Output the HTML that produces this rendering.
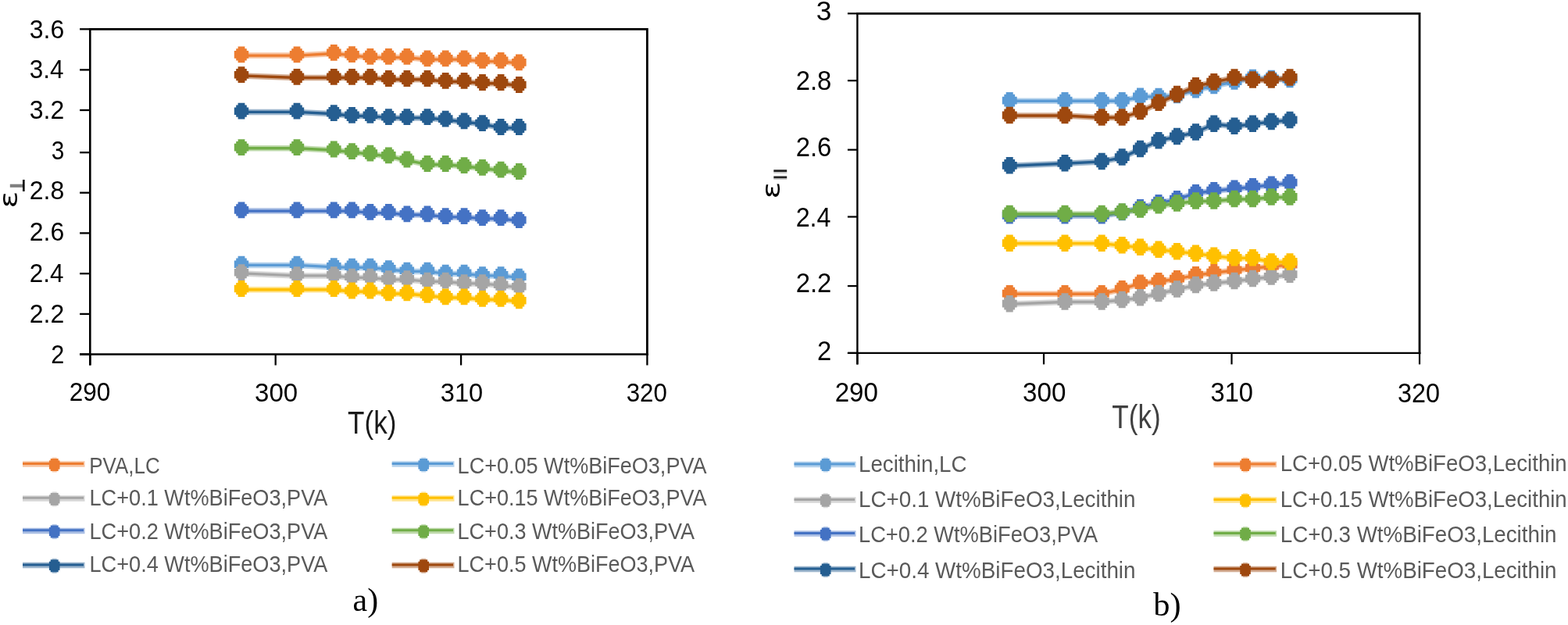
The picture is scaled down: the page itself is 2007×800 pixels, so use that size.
<!DOCTYPE html><html><head><meta charset="utf-8"><title>Dielectric permittivity vs temperature</title><style>html,body{margin:0;padding:0;background:#fff;overflow:hidden;}svg{display:block;}.tk{font-family:"Liberation Sans",Arial,sans-serif;font-size:32.5px;fill:#000;}.tk2{font-family:"Liberation Sans",Arial,sans-serif;font-size:34px;fill:#000;}.lg{font-family:"Liberation Sans",Arial,sans-serif;font-size:29.4px;fill:#595959;}.lg2{font-family:"Liberation Sans",Arial,sans-serif;font-size:29.8px;fill:#595959;}.ti{font-family:"Liberation Sans",Arial,sans-serif;}.cap{font-family:"Liberation Serif","Times New Roman",serif;font-size:43px;fill:#000;}</style></head><body><svg width="2007" height="800" viewBox="0 0 2007 800"><rect width="2007" height="800" fill="#fff"/><g stroke="#000" fill="none"><path d="M115.3,37.3 H828.4 V453.5" stroke-width="2.8" stroke-linecap="square"/><path d="M115.3,35.9 V467.5" stroke-width="2.6"/><path d="M102.1,453.5 H829.8" stroke-width="2.4"/><path d="M102.1,37.3 H115.3" stroke-width="2.3"/><path d="M102.1,89.4 H115.3" stroke-width="2.3"/><path d="M102.1,141.0 H115.3" stroke-width="2.3"/><path d="M102.1,195.2 H115.3" stroke-width="2.3"/><path d="M102.1,246.7 H115.3" stroke-width="2.3"/><path d="M102.1,298.4 H115.3" stroke-width="2.3"/><path d="M102.1,350.2 H115.3" stroke-width="2.3"/><path d="M102.1,401.9 H115.3" stroke-width="2.3"/><path d="M102.1,453.5 H115.3" stroke-width="2.3"/><path d="M115.3,453.5 V467.5" stroke-width="2.3"/><path d="M352.7,453.5 V467.5" stroke-width="2.3"/><path d="M590.1,453.5 V467.5" stroke-width="2.3"/><path d="M828.4,453.5 V467.5" stroke-width="2.3"/></g><text x="37.78" y="49.42" font-family='"Liberation Sans",Arial,sans-serif' font-size="32.5" fill="#000" textLength="44.48" lengthAdjust="spacingAndGlyphs">3.6</text><text x="37.78" y="100.28" font-family='"Liberation Sans",Arial,sans-serif' font-size="32.5" fill="#000" textLength="43.68" lengthAdjust="spacingAndGlyphs">3.4</text><text x="37.78" y="152.20" font-family='"Liberation Sans",Arial,sans-serif' font-size="32.5" fill="#000" textLength="44.48" lengthAdjust="spacingAndGlyphs">3.2</text><text x="65.70" y="204.12" font-family='"Liberation Sans",Arial,sans-serif' font-size="32.5" fill="#000" textLength="16.56" lengthAdjust="spacingAndGlyphs">3</text><text x="37.78" y="255.42" font-family='"Liberation Sans",Arial,sans-serif' font-size="32.5" fill="#000" textLength="44.48" lengthAdjust="spacingAndGlyphs">2.8</text><text x="37.78" y="307.58" font-family='"Liberation Sans",Arial,sans-serif' font-size="32.5" fill="#000" textLength="44.48" lengthAdjust="spacingAndGlyphs">2.6</text><text x="37.78" y="361.44" font-family='"Liberation Sans",Arial,sans-serif' font-size="32.5" fill="#000" textLength="43.68" lengthAdjust="spacingAndGlyphs">2.4</text><text x="37.78" y="413.32" font-family='"Liberation Sans",Arial,sans-serif' font-size="32.5" fill="#000" textLength="44.48" lengthAdjust="spacingAndGlyphs">2.2</text><text x="65.28" y="465.24" font-family='"Liberation Sans",Arial,sans-serif' font-size="32.5" fill="#000" textLength="17.02" lengthAdjust="spacingAndGlyphs">2</text><text x="88.70" y="513.48" font-family='"Liberation Sans",Arial,sans-serif' font-size="32.5" fill="#000" textLength="52.60" lengthAdjust="spacingAndGlyphs">290</text><text x="326.12" y="514.00" font-family='"Liberation Sans",Arial,sans-serif' font-size="32.5" fill="#000" textLength="55.10" lengthAdjust="spacingAndGlyphs">300</text><text x="563.74" y="514.00" font-family='"Liberation Sans",Arial,sans-serif' font-size="32.5" fill="#000" textLength="54.52" lengthAdjust="spacingAndGlyphs">310</text><text x="801.74" y="513.54" font-family='"Liberation Sans",Arial,sans-serif' font-size="32.5" fill="#000" textLength="52.10" lengthAdjust="spacingAndGlyphs">320</text><text x="445.10" y="554.86" font-family='"Liberation Sans",Arial,sans-serif' font-size="40.6" fill="#1a1a1a" textLength="62.33" lengthAdjust="spacingAndGlyphs">T(k)</text><g stroke="#000" fill="none"><path d="M1097.4,17.3 H1817.0 V451.9" stroke-width="2.8" stroke-linecap="square"/><path d="M1097.4,15.9 V466.4" stroke-width="2.4"/><path d="M1084.9,451.9 H1818.4" stroke-width="2.2"/><path d="M1084.9,17.3 H1097.4" stroke-width="2.2"/><path d="M1084.9,103.2 H1097.4" stroke-width="2.2"/><path d="M1084.9,191.7 H1097.4" stroke-width="2.2"/><path d="M1084.9,277.5 H1097.4" stroke-width="2.2"/><path d="M1084.9,366.1 H1097.4" stroke-width="2.2"/><path d="M1084.9,451.9 H1097.4" stroke-width="2.2"/><path d="M1097.4,451.9 V466.4" stroke-width="2.2"/><path d="M1336.0,451.9 V466.4" stroke-width="2.2"/><path d="M1576.5,451.9 V466.4" stroke-width="2.2"/><path d="M1817.0,451.9 V466.4" stroke-width="2.2"/></g><text x="1044.74" y="26.46" font-family='"Liberation Sans",Arial,sans-serif' font-size="34.5" fill="#000" textLength="19.60" lengthAdjust="spacingAndGlyphs">3</text><text x="1018.70" y="115.24" font-family='"Liberation Sans",Arial,sans-serif' font-size="34.5" fill="#000" textLength="45.64" lengthAdjust="spacingAndGlyphs">2.8</text><text x="1018.70" y="200.36" font-family='"Liberation Sans",Arial,sans-serif' font-size="34.5" fill="#000" textLength="45.64" lengthAdjust="spacingAndGlyphs">2.6</text><text x="1018.70" y="289.52" font-family='"Liberation Sans",Arial,sans-serif' font-size="34.5" fill="#000" textLength="44.84" lengthAdjust="spacingAndGlyphs">2.4</text><text x="1018.70" y="374.36" font-family='"Liberation Sans",Arial,sans-serif' font-size="34.5" fill="#000" textLength="45.64" lengthAdjust="spacingAndGlyphs">2.2</text><text x="1046.12" y="460.82" font-family='"Liberation Sans",Arial,sans-serif' font-size="34.5" fill="#000" textLength="18.22" lengthAdjust="spacingAndGlyphs">2</text><text x="1068.74" y="514.36" font-family='"Liberation Sans",Arial,sans-serif' font-size="34.5" fill="#000" textLength="55.14" lengthAdjust="spacingAndGlyphs">290</text><text x="1309.12" y="514.40" font-family='"Liberation Sans",Arial,sans-serif' font-size="34.5" fill="#000" textLength="55.26" lengthAdjust="spacingAndGlyphs">300</text><text x="1549.62" y="514.40" font-family='"Liberation Sans",Arial,sans-serif' font-size="34.5" fill="#000" textLength="54.34" lengthAdjust="spacingAndGlyphs">310</text><text x="1789.04" y="514.74" font-family='"Liberation Sans",Arial,sans-serif' font-size="34.5" fill="#000" textLength="53.92" lengthAdjust="spacingAndGlyphs">320</text><text x="1423.35" y="548.32" font-family='"Liberation Sans",Arial,sans-serif' font-size="42.5" fill="#404040" textLength="62.27" lengthAdjust="spacingAndGlyphs">T(k)</text><polyline points="309.0,71.1 380.0,71.1 427.3,68.5 450.5,70.9 473.9,73.5 497.4,73.6 520.9,73.6 547.0,76.1 570.2,76.1 594.1,76.1 617.5,78.6 641.1,78.6 664.4,81.1" fill="none" stroke="#ED7D31" stroke-opacity="0.45" stroke-width="7.5" stroke-linejoin="round"/><polyline points="309.0,71.1 380.0,71.1 427.3,68.5 450.5,70.9 473.9,73.5 497.4,73.6 520.9,73.6 547.0,76.1 570.2,76.1 594.1,76.1 617.5,78.6 641.1,78.6 664.4,81.1" fill="none" stroke="#ED7D31" stroke-width="3.4" stroke-linejoin="round"/><path d="M304.6,59.5 L313.4,59.5 L313.4,62.3 L315.8,62.3 L315.8,65.1 L318.2,65.1 L318.2,74.7 L315.8,74.7 L315.8,77.5 L313.4,77.5 L313.4,80.3 L304.6,80.3 L304.6,77.5 L302.2,77.5 L302.2,74.7 L299.8,74.7 L299.8,65.1 L302.2,65.1 L302.2,62.3 L304.6,62.3Z" fill="#ED7D31"/><path d="M375.6,59.5 L384.4,59.5 L384.4,62.3 L386.8,62.3 L386.8,65.1 L389.2,65.1 L389.2,74.7 L386.8,74.7 L386.8,77.5 L384.4,77.5 L384.4,80.3 L375.6,80.3 L375.6,77.5 L373.2,77.5 L373.2,74.7 L370.8,74.7 L370.8,65.1 L373.2,65.1 L373.2,62.3 L375.6,62.3Z" fill="#ED7D31"/><path d="M422.9,56.9 L431.7,56.9 L431.7,59.7 L434.1,59.7 L434.1,62.5 L436.6,62.5 L436.6,72.1 L434.1,72.1 L434.1,74.9 L431.7,74.9 L431.7,77.7 L422.9,77.7 L422.9,74.9 L420.5,74.9 L420.5,72.1 L418.1,72.1 L418.1,62.5 L420.5,62.5 L420.5,59.7 L422.9,59.7Z" fill="#ED7D31"/><path d="M446.1,59.3 L454.9,59.3 L454.9,62.1 L457.3,62.1 L457.3,64.9 L459.8,64.9 L459.8,74.5 L457.3,74.5 L457.3,77.3 L454.9,77.3 L454.9,80.1 L446.1,80.1 L446.1,77.3 L443.7,77.3 L443.7,74.5 L441.2,74.5 L441.2,64.9 L443.7,64.9 L443.7,62.1 L446.1,62.1Z" fill="#ED7D31"/><path d="M469.5,61.9 L478.3,61.9 L478.3,64.7 L480.7,64.7 L480.7,67.5 L483.1,67.5 L483.1,77.1 L480.7,77.1 L480.7,79.9 L478.3,79.9 L478.3,82.7 L469.5,82.7 L469.5,79.9 L467.1,79.9 L467.1,77.1 L464.6,77.1 L464.6,67.5 L467.1,67.5 L467.1,64.7 L469.5,64.7Z" fill="#ED7D31"/><path d="M493.0,62.0 L501.8,62.0 L501.8,64.8 L504.2,64.8 L504.2,67.6 L506.6,67.6 L506.6,77.2 L504.2,77.2 L504.2,80.0 L501.8,80.0 L501.8,82.8 L493.0,82.8 L493.0,80.0 L490.6,80.0 L490.6,77.2 L488.1,77.2 L488.1,67.6 L490.6,67.6 L490.6,64.8 L493.0,64.8Z" fill="#ED7D31"/><path d="M516.5,62.0 L525.3,62.0 L525.3,64.8 L527.7,64.8 L527.7,67.6 L530.1,67.6 L530.1,77.2 L527.7,77.2 L527.7,80.0 L525.3,80.0 L525.3,82.8 L516.5,82.8 L516.5,80.0 L514.1,80.0 L514.1,77.2 L511.6,77.2 L511.6,67.6 L514.1,67.6 L514.1,64.8 L516.5,64.8Z" fill="#ED7D31"/><path d="M542.6,64.5 L551.4,64.5 L551.4,67.3 L553.8,67.3 L553.8,70.1 L556.2,70.1 L556.2,79.7 L553.8,79.7 L553.8,82.5 L551.4,82.5 L551.4,85.3 L542.6,85.3 L542.6,82.5 L540.2,82.5 L540.2,79.7 L537.8,79.7 L537.8,70.1 L540.2,70.1 L540.2,67.3 L542.6,67.3Z" fill="#ED7D31"/><path d="M565.8,64.5 L574.6,64.5 L574.6,67.3 L577.0,67.3 L577.0,70.1 L579.5,70.1 L579.5,79.7 L577.0,79.7 L577.0,82.5 L574.6,82.5 L574.6,85.3 L565.8,85.3 L565.8,82.5 L563.4,82.5 L563.4,79.7 L561.0,79.7 L561.0,70.1 L563.4,70.1 L563.4,67.3 L565.8,67.3Z" fill="#ED7D31"/><path d="M589.7,64.5 L598.5,64.5 L598.5,67.3 L600.9,67.3 L600.9,70.1 L603.4,70.1 L603.4,79.7 L600.9,79.7 L600.9,82.5 L598.5,82.5 L598.5,85.3 L589.7,85.3 L589.7,82.5 L587.3,82.5 L587.3,79.7 L584.9,79.7 L584.9,70.1 L587.3,70.1 L587.3,67.3 L589.7,67.3Z" fill="#ED7D31"/><path d="M613.1,67.0 L621.9,67.0 L621.9,69.8 L624.3,69.8 L624.3,72.6 L626.8,72.6 L626.8,82.2 L624.3,82.2 L624.3,85.0 L621.9,85.0 L621.9,87.8 L613.1,87.8 L613.1,85.0 L610.7,85.0 L610.7,82.2 L608.2,82.2 L608.2,72.6 L610.7,72.6 L610.7,69.8 L613.1,69.8Z" fill="#ED7D31"/><path d="M636.7,67.0 L645.5,67.0 L645.5,69.8 L647.9,69.8 L647.9,72.6 L650.4,72.6 L650.4,82.2 L647.9,82.2 L647.9,85.0 L645.5,85.0 L645.5,87.8 L636.7,87.8 L636.7,85.0 L634.3,85.0 L634.3,82.2 L631.9,82.2 L631.9,72.6 L634.3,72.6 L634.3,69.8 L636.7,69.8Z" fill="#ED7D31"/><path d="M660.0,69.5 L668.8,69.5 L668.8,72.3 L671.2,72.3 L671.2,75.1 L673.6,75.1 L673.6,84.7 L671.2,84.7 L671.2,87.5 L668.8,87.5 L668.8,90.3 L660.0,90.3 L660.0,87.5 L657.6,87.5 L657.6,84.7 L655.1,84.7 L655.1,75.1 L657.6,75.1 L657.6,72.3 L660.0,72.3Z" fill="#ED7D31"/><polyline points="309.0,339.4 380.0,339.4 427.3,341.9 450.5,342.4 473.9,342.4 497.4,344.9 520.9,347.4 547.0,347.4 570.2,350.4 594.1,350.4 617.5,352.9 641.1,352.9 664.4,355.4" fill="none" stroke="#5B9BD5" stroke-opacity="0.45" stroke-width="7.5" stroke-linejoin="round"/><polyline points="309.0,339.4 380.0,339.4 427.3,341.9 450.5,342.4 473.9,342.4 497.4,344.9 520.9,347.4 547.0,347.4 570.2,350.4 594.1,350.4 617.5,352.9 641.1,352.9 664.4,355.4" fill="none" stroke="#5B9BD5" stroke-width="3.4" stroke-linejoin="round"/><path d="M304.6,327.8 L313.4,327.8 L313.4,330.6 L315.8,330.6 L315.8,333.4 L318.2,333.4 L318.2,343.0 L315.8,343.0 L315.8,345.8 L313.4,345.8 L313.4,348.6 L304.6,348.6 L304.6,345.8 L302.2,345.8 L302.2,343.0 L299.8,343.0 L299.8,333.4 L302.2,333.4 L302.2,330.6 L304.6,330.6Z" fill="#5B9BD5"/><path d="M375.6,327.8 L384.4,327.8 L384.4,330.6 L386.8,330.6 L386.8,333.4 L389.2,333.4 L389.2,343.0 L386.8,343.0 L386.8,345.8 L384.4,345.8 L384.4,348.6 L375.6,348.6 L375.6,345.8 L373.2,345.8 L373.2,343.0 L370.8,343.0 L370.8,333.4 L373.2,333.4 L373.2,330.6 L375.6,330.6Z" fill="#5B9BD5"/><path d="M422.9,330.3 L431.7,330.3 L431.7,333.1 L434.1,333.1 L434.1,335.9 L436.6,335.9 L436.6,345.5 L434.1,345.5 L434.1,348.3 L431.7,348.3 L431.7,351.1 L422.9,351.1 L422.9,348.3 L420.5,348.3 L420.5,345.5 L418.1,345.5 L418.1,335.9 L420.5,335.9 L420.5,333.1 L422.9,333.1Z" fill="#5B9BD5"/><path d="M446.1,330.8 L454.9,330.8 L454.9,333.6 L457.3,333.6 L457.3,336.4 L459.8,336.4 L459.8,346.0 L457.3,346.0 L457.3,348.8 L454.9,348.8 L454.9,351.6 L446.1,351.6 L446.1,348.8 L443.7,348.8 L443.7,346.0 L441.2,346.0 L441.2,336.4 L443.7,336.4 L443.7,333.6 L446.1,333.6Z" fill="#5B9BD5"/><path d="M469.5,330.8 L478.3,330.8 L478.3,333.6 L480.7,333.6 L480.7,336.4 L483.1,336.4 L483.1,346.0 L480.7,346.0 L480.7,348.8 L478.3,348.8 L478.3,351.6 L469.5,351.6 L469.5,348.8 L467.1,348.8 L467.1,346.0 L464.6,346.0 L464.6,336.4 L467.1,336.4 L467.1,333.6 L469.5,333.6Z" fill="#5B9BD5"/><path d="M493.0,333.3 L501.8,333.3 L501.8,336.1 L504.2,336.1 L504.2,338.9 L506.6,338.9 L506.6,348.5 L504.2,348.5 L504.2,351.3 L501.8,351.3 L501.8,354.1 L493.0,354.1 L493.0,351.3 L490.6,351.3 L490.6,348.5 L488.1,348.5 L488.1,338.9 L490.6,338.9 L490.6,336.1 L493.0,336.1Z" fill="#5B9BD5"/><path d="M516.5,335.8 L525.3,335.8 L525.3,338.6 L527.7,338.6 L527.7,341.4 L530.1,341.4 L530.1,351.0 L527.7,351.0 L527.7,353.8 L525.3,353.8 L525.3,356.6 L516.5,356.6 L516.5,353.8 L514.1,353.8 L514.1,351.0 L511.6,351.0 L511.6,341.4 L514.1,341.4 L514.1,338.6 L516.5,338.6Z" fill="#5B9BD5"/><path d="M542.6,335.8 L551.4,335.8 L551.4,338.6 L553.8,338.6 L553.8,341.4 L556.2,341.4 L556.2,351.0 L553.8,351.0 L553.8,353.8 L551.4,353.8 L551.4,356.6 L542.6,356.6 L542.6,353.8 L540.2,353.8 L540.2,351.0 L537.8,351.0 L537.8,341.4 L540.2,341.4 L540.2,338.6 L542.6,338.6Z" fill="#5B9BD5"/><path d="M565.8,338.8 L574.6,338.8 L574.6,341.6 L577.0,341.6 L577.0,344.4 L579.5,344.4 L579.5,354.0 L577.0,354.0 L577.0,356.8 L574.6,356.8 L574.6,359.6 L565.8,359.6 L565.8,356.8 L563.4,356.8 L563.4,354.0 L561.0,354.0 L561.0,344.4 L563.4,344.4 L563.4,341.6 L565.8,341.6Z" fill="#5B9BD5"/><path d="M589.7,338.8 L598.5,338.8 L598.5,341.6 L600.9,341.6 L600.9,344.4 L603.4,344.4 L603.4,354.0 L600.9,354.0 L600.9,356.8 L598.5,356.8 L598.5,359.6 L589.7,359.6 L589.7,356.8 L587.3,356.8 L587.3,354.0 L584.9,354.0 L584.9,344.4 L587.3,344.4 L587.3,341.6 L589.7,341.6Z" fill="#5B9BD5"/><path d="M613.1,341.3 L621.9,341.3 L621.9,344.1 L624.3,344.1 L624.3,346.9 L626.8,346.9 L626.8,356.5 L624.3,356.5 L624.3,359.3 L621.9,359.3 L621.9,362.1 L613.1,362.1 L613.1,359.3 L610.7,359.3 L610.7,356.5 L608.2,356.5 L608.2,346.9 L610.7,346.9 L610.7,344.1 L613.1,344.1Z" fill="#5B9BD5"/><path d="M636.7,341.3 L645.5,341.3 L645.5,344.1 L647.9,344.1 L647.9,346.9 L650.4,346.9 L650.4,356.5 L647.9,356.5 L647.9,359.3 L645.5,359.3 L645.5,362.1 L636.7,362.1 L636.7,359.3 L634.3,359.3 L634.3,356.5 L631.9,356.5 L631.9,346.9 L634.3,346.9 L634.3,344.1 L636.7,344.1Z" fill="#5B9BD5"/><path d="M660.0,343.8 L668.8,343.8 L668.8,346.6 L671.2,346.6 L671.2,349.4 L673.6,349.4 L673.6,359.0 L671.2,359.0 L671.2,361.8 L668.8,361.8 L668.8,364.6 L660.0,364.6 L660.0,361.8 L657.6,361.8 L657.6,359.0 L655.1,359.0 L655.1,349.4 L657.6,349.4 L657.6,346.6 L660.0,346.6Z" fill="#5B9BD5"/><polyline points="309.0,349.9 380.0,352.9 427.3,352.9 450.5,355.4 473.9,355.4 497.4,357.9 520.9,357.9 547.0,360.4 570.2,360.4 594.1,362.9 617.5,362.9 641.1,365.4 664.4,367.9" fill="none" stroke="#A5A5A5" stroke-opacity="0.45" stroke-width="7.5" stroke-linejoin="round"/><polyline points="309.0,349.9 380.0,352.9 427.3,352.9 450.5,355.4 473.9,355.4 497.4,357.9 520.9,357.9 547.0,360.4 570.2,360.4 594.1,362.9 617.5,362.9 641.1,365.4 664.4,367.9" fill="none" stroke="#A5A5A5" stroke-width="3.4" stroke-linejoin="round"/><path d="M304.6,338.3 L313.4,338.3 L313.4,341.1 L315.8,341.1 L315.8,343.9 L318.2,343.9 L318.2,353.5 L315.8,353.5 L315.8,356.3 L313.4,356.3 L313.4,359.1 L304.6,359.1 L304.6,356.3 L302.2,356.3 L302.2,353.5 L299.8,353.5 L299.8,343.9 L302.2,343.9 L302.2,341.1 L304.6,341.1Z" fill="#A5A5A5"/><path d="M375.6,341.3 L384.4,341.3 L384.4,344.1 L386.8,344.1 L386.8,346.9 L389.2,346.9 L389.2,356.5 L386.8,356.5 L386.8,359.3 L384.4,359.3 L384.4,362.1 L375.6,362.1 L375.6,359.3 L373.2,359.3 L373.2,356.5 L370.8,356.5 L370.8,346.9 L373.2,346.9 L373.2,344.1 L375.6,344.1Z" fill="#A5A5A5"/><path d="M422.9,341.3 L431.7,341.3 L431.7,344.1 L434.1,344.1 L434.1,346.9 L436.6,346.9 L436.6,356.5 L434.1,356.5 L434.1,359.3 L431.7,359.3 L431.7,362.1 L422.9,362.1 L422.9,359.3 L420.5,359.3 L420.5,356.5 L418.1,356.5 L418.1,346.9 L420.5,346.9 L420.5,344.1 L422.9,344.1Z" fill="#A5A5A5"/><path d="M446.1,343.8 L454.9,343.8 L454.9,346.6 L457.3,346.6 L457.3,349.4 L459.8,349.4 L459.8,359.0 L457.3,359.0 L457.3,361.8 L454.9,361.8 L454.9,364.6 L446.1,364.6 L446.1,361.8 L443.7,361.8 L443.7,359.0 L441.2,359.0 L441.2,349.4 L443.7,349.4 L443.7,346.6 L446.1,346.6Z" fill="#A5A5A5"/><path d="M469.5,343.8 L478.3,343.8 L478.3,346.6 L480.7,346.6 L480.7,349.4 L483.1,349.4 L483.1,359.0 L480.7,359.0 L480.7,361.8 L478.3,361.8 L478.3,364.6 L469.5,364.6 L469.5,361.8 L467.1,361.8 L467.1,359.0 L464.6,359.0 L464.6,349.4 L467.1,349.4 L467.1,346.6 L469.5,346.6Z" fill="#A5A5A5"/><path d="M493.0,346.3 L501.8,346.3 L501.8,349.1 L504.2,349.1 L504.2,351.9 L506.6,351.9 L506.6,361.5 L504.2,361.5 L504.2,364.3 L501.8,364.3 L501.8,367.1 L493.0,367.1 L493.0,364.3 L490.6,364.3 L490.6,361.5 L488.1,361.5 L488.1,351.9 L490.6,351.9 L490.6,349.1 L493.0,349.1Z" fill="#A5A5A5"/><path d="M516.5,346.3 L525.3,346.3 L525.3,349.1 L527.7,349.1 L527.7,351.9 L530.1,351.9 L530.1,361.5 L527.7,361.5 L527.7,364.3 L525.3,364.3 L525.3,367.1 L516.5,367.1 L516.5,364.3 L514.1,364.3 L514.1,361.5 L511.6,361.5 L511.6,351.9 L514.1,351.9 L514.1,349.1 L516.5,349.1Z" fill="#A5A5A5"/><path d="M542.6,348.8 L551.4,348.8 L551.4,351.6 L553.8,351.6 L553.8,354.4 L556.2,354.4 L556.2,364.0 L553.8,364.0 L553.8,366.8 L551.4,366.8 L551.4,369.6 L542.6,369.6 L542.6,366.8 L540.2,366.8 L540.2,364.0 L537.8,364.0 L537.8,354.4 L540.2,354.4 L540.2,351.6 L542.6,351.6Z" fill="#A5A5A5"/><path d="M565.8,348.8 L574.6,348.8 L574.6,351.6 L577.0,351.6 L577.0,354.4 L579.5,354.4 L579.5,364.0 L577.0,364.0 L577.0,366.8 L574.6,366.8 L574.6,369.6 L565.8,369.6 L565.8,366.8 L563.4,366.8 L563.4,364.0 L561.0,364.0 L561.0,354.4 L563.4,354.4 L563.4,351.6 L565.8,351.6Z" fill="#A5A5A5"/><path d="M589.7,351.3 L598.5,351.3 L598.5,354.1 L600.9,354.1 L600.9,356.9 L603.4,356.9 L603.4,366.5 L600.9,366.5 L600.9,369.3 L598.5,369.3 L598.5,372.1 L589.7,372.1 L589.7,369.3 L587.3,369.3 L587.3,366.5 L584.9,366.5 L584.9,356.9 L587.3,356.9 L587.3,354.1 L589.7,354.1Z" fill="#A5A5A5"/><path d="M613.1,351.3 L621.9,351.3 L621.9,354.1 L624.3,354.1 L624.3,356.9 L626.8,356.9 L626.8,366.5 L624.3,366.5 L624.3,369.3 L621.9,369.3 L621.9,372.1 L613.1,372.1 L613.1,369.3 L610.7,369.3 L610.7,366.5 L608.2,366.5 L608.2,356.9 L610.7,356.9 L610.7,354.1 L613.1,354.1Z" fill="#A5A5A5"/><path d="M636.7,353.8 L645.5,353.8 L645.5,356.6 L647.9,356.6 L647.9,359.4 L650.4,359.4 L650.4,369.0 L647.9,369.0 L647.9,371.8 L645.5,371.8 L645.5,374.6 L636.7,374.6 L636.7,371.8 L634.3,371.8 L634.3,369.0 L631.9,369.0 L631.9,359.4 L634.3,359.4 L634.3,356.6 L636.7,356.6Z" fill="#A5A5A5"/><path d="M660.0,356.3 L668.8,356.3 L668.8,359.1 L671.2,359.1 L671.2,361.9 L673.6,361.9 L673.6,371.5 L671.2,371.5 L671.2,374.3 L668.8,374.3 L668.8,377.1 L660.0,377.1 L660.0,374.3 L657.6,374.3 L657.6,371.5 L655.1,371.5 L655.1,361.9 L657.6,361.9 L657.6,359.1 L660.0,359.1Z" fill="#A5A5A5"/><polyline points="309.0,370.7 380.0,370.7 427.3,370.7 450.5,373.2 473.9,373.2 497.4,376.0 520.9,376.0 547.0,378.5 570.2,381.0 594.1,381.0 617.5,383.5 641.1,383.5 664.4,386.0" fill="none" stroke="#FFC000" stroke-opacity="0.45" stroke-width="7.5" stroke-linejoin="round"/><polyline points="309.0,370.7 380.0,370.7 427.3,370.7 450.5,373.2 473.9,373.2 497.4,376.0 520.9,376.0 547.0,378.5 570.2,381.0 594.1,381.0 617.5,383.5 641.1,383.5 664.4,386.0" fill="none" stroke="#FFC000" stroke-width="3.4" stroke-linejoin="round"/><path d="M304.6,359.1 L313.4,359.1 L313.4,361.9 L315.8,361.9 L315.8,364.7 L318.2,364.7 L318.2,374.3 L315.8,374.3 L315.8,377.1 L313.4,377.1 L313.4,379.9 L304.6,379.9 L304.6,377.1 L302.2,377.1 L302.2,374.3 L299.8,374.3 L299.8,364.7 L302.2,364.7 L302.2,361.9 L304.6,361.9Z" fill="#FFC000"/><path d="M375.6,359.1 L384.4,359.1 L384.4,361.9 L386.8,361.9 L386.8,364.7 L389.2,364.7 L389.2,374.3 L386.8,374.3 L386.8,377.1 L384.4,377.1 L384.4,379.9 L375.6,379.9 L375.6,377.1 L373.2,377.1 L373.2,374.3 L370.8,374.3 L370.8,364.7 L373.2,364.7 L373.2,361.9 L375.6,361.9Z" fill="#FFC000"/><path d="M422.9,359.1 L431.7,359.1 L431.7,361.9 L434.1,361.9 L434.1,364.7 L436.6,364.7 L436.6,374.3 L434.1,374.3 L434.1,377.1 L431.7,377.1 L431.7,379.9 L422.9,379.9 L422.9,377.1 L420.5,377.1 L420.5,374.3 L418.1,374.3 L418.1,364.7 L420.5,364.7 L420.5,361.9 L422.9,361.9Z" fill="#FFC000"/><path d="M446.1,361.6 L454.9,361.6 L454.9,364.4 L457.3,364.4 L457.3,367.2 L459.8,367.2 L459.8,376.8 L457.3,376.8 L457.3,379.6 L454.9,379.6 L454.9,382.4 L446.1,382.4 L446.1,379.6 L443.7,379.6 L443.7,376.8 L441.2,376.8 L441.2,367.2 L443.7,367.2 L443.7,364.4 L446.1,364.4Z" fill="#FFC000"/><path d="M469.5,361.6 L478.3,361.6 L478.3,364.4 L480.7,364.4 L480.7,367.2 L483.1,367.2 L483.1,376.8 L480.7,376.8 L480.7,379.6 L478.3,379.6 L478.3,382.4 L469.5,382.4 L469.5,379.6 L467.1,379.6 L467.1,376.8 L464.6,376.8 L464.6,367.2 L467.1,367.2 L467.1,364.4 L469.5,364.4Z" fill="#FFC000"/><path d="M493.0,364.4 L501.8,364.4 L501.8,367.2 L504.2,367.2 L504.2,370.0 L506.6,370.0 L506.6,379.6 L504.2,379.6 L504.2,382.4 L501.8,382.4 L501.8,385.2 L493.0,385.2 L493.0,382.4 L490.6,382.4 L490.6,379.6 L488.1,379.6 L488.1,370.0 L490.6,370.0 L490.6,367.2 L493.0,367.2Z" fill="#FFC000"/><path d="M516.5,364.4 L525.3,364.4 L525.3,367.2 L527.7,367.2 L527.7,370.0 L530.1,370.0 L530.1,379.6 L527.7,379.6 L527.7,382.4 L525.3,382.4 L525.3,385.2 L516.5,385.2 L516.5,382.4 L514.1,382.4 L514.1,379.6 L511.6,379.6 L511.6,370.0 L514.1,370.0 L514.1,367.2 L516.5,367.2Z" fill="#FFC000"/><path d="M542.6,366.9 L551.4,366.9 L551.4,369.7 L553.8,369.7 L553.8,372.5 L556.2,372.5 L556.2,382.1 L553.8,382.1 L553.8,384.9 L551.4,384.9 L551.4,387.7 L542.6,387.7 L542.6,384.9 L540.2,384.9 L540.2,382.1 L537.8,382.1 L537.8,372.5 L540.2,372.5 L540.2,369.7 L542.6,369.7Z" fill="#FFC000"/><path d="M565.8,369.4 L574.6,369.4 L574.6,372.2 L577.0,372.2 L577.0,375.0 L579.5,375.0 L579.5,384.6 L577.0,384.6 L577.0,387.4 L574.6,387.4 L574.6,390.2 L565.8,390.2 L565.8,387.4 L563.4,387.4 L563.4,384.6 L561.0,384.6 L561.0,375.0 L563.4,375.0 L563.4,372.2 L565.8,372.2Z" fill="#FFC000"/><path d="M589.7,369.4 L598.5,369.4 L598.5,372.2 L600.9,372.2 L600.9,375.0 L603.4,375.0 L603.4,384.6 L600.9,384.6 L600.9,387.4 L598.5,387.4 L598.5,390.2 L589.7,390.2 L589.7,387.4 L587.3,387.4 L587.3,384.6 L584.9,384.6 L584.9,375.0 L587.3,375.0 L587.3,372.2 L589.7,372.2Z" fill="#FFC000"/><path d="M613.1,371.9 L621.9,371.9 L621.9,374.7 L624.3,374.7 L624.3,377.5 L626.8,377.5 L626.8,387.1 L624.3,387.1 L624.3,389.9 L621.9,389.9 L621.9,392.7 L613.1,392.7 L613.1,389.9 L610.7,389.9 L610.7,387.1 L608.2,387.1 L608.2,377.5 L610.7,377.5 L610.7,374.7 L613.1,374.7Z" fill="#FFC000"/><path d="M636.7,371.9 L645.5,371.9 L645.5,374.7 L647.9,374.7 L647.9,377.5 L650.4,377.5 L650.4,387.1 L647.9,387.1 L647.9,389.9 L645.5,389.9 L645.5,392.7 L636.7,392.7 L636.7,389.9 L634.3,389.9 L634.3,387.1 L631.9,387.1 L631.9,377.5 L634.3,377.5 L634.3,374.7 L636.7,374.7Z" fill="#FFC000"/><path d="M660.0,374.4 L668.8,374.4 L668.8,377.2 L671.2,377.2 L671.2,380.0 L673.6,380.0 L673.6,389.6 L671.2,389.6 L671.2,392.4 L668.8,392.4 L668.8,395.2 L660.0,395.2 L660.0,392.4 L657.6,392.4 L657.6,389.6 L655.1,389.6 L655.1,380.0 L657.6,380.0 L657.6,377.2 L660.0,377.2Z" fill="#FFC000"/><polyline points="309.0,270.1 380.0,270.1 427.3,270.1 450.5,270.1 473.9,272.6 497.4,272.6 520.9,275.0 547.0,275.0 570.2,277.9 594.1,277.9 617.5,279.9 641.1,279.9 664.4,282.8" fill="none" stroke="#4472C4" stroke-opacity="0.45" stroke-width="7.5" stroke-linejoin="round"/><polyline points="309.0,270.1 380.0,270.1 427.3,270.1 450.5,270.1 473.9,272.6 497.4,272.6 520.9,275.0 547.0,275.0 570.2,277.9 594.1,277.9 617.5,279.9 641.1,279.9 664.4,282.8" fill="none" stroke="#4472C4" stroke-width="3.4" stroke-linejoin="round"/><path d="M304.6,258.5 L313.4,258.5 L313.4,261.3 L315.8,261.3 L315.8,264.1 L318.2,264.1 L318.2,273.7 L315.8,273.7 L315.8,276.5 L313.4,276.5 L313.4,279.3 L304.6,279.3 L304.6,276.5 L302.2,276.5 L302.2,273.7 L299.8,273.7 L299.8,264.1 L302.2,264.1 L302.2,261.3 L304.6,261.3Z" fill="#4472C4"/><path d="M375.6,258.5 L384.4,258.5 L384.4,261.3 L386.8,261.3 L386.8,264.1 L389.2,264.1 L389.2,273.7 L386.8,273.7 L386.8,276.5 L384.4,276.5 L384.4,279.3 L375.6,279.3 L375.6,276.5 L373.2,276.5 L373.2,273.7 L370.8,273.7 L370.8,264.1 L373.2,264.1 L373.2,261.3 L375.6,261.3Z" fill="#4472C4"/><path d="M422.9,258.5 L431.7,258.5 L431.7,261.3 L434.1,261.3 L434.1,264.1 L436.6,264.1 L436.6,273.7 L434.1,273.7 L434.1,276.5 L431.7,276.5 L431.7,279.3 L422.9,279.3 L422.9,276.5 L420.5,276.5 L420.5,273.7 L418.1,273.7 L418.1,264.1 L420.5,264.1 L420.5,261.3 L422.9,261.3Z" fill="#4472C4"/><path d="M446.1,258.5 L454.9,258.5 L454.9,261.3 L457.3,261.3 L457.3,264.1 L459.8,264.1 L459.8,273.7 L457.3,273.7 L457.3,276.5 L454.9,276.5 L454.9,279.3 L446.1,279.3 L446.1,276.5 L443.7,276.5 L443.7,273.7 L441.2,273.7 L441.2,264.1 L443.7,264.1 L443.7,261.3 L446.1,261.3Z" fill="#4472C4"/><path d="M469.5,261.0 L478.3,261.0 L478.3,263.8 L480.7,263.8 L480.7,266.6 L483.1,266.6 L483.1,276.2 L480.7,276.2 L480.7,279.0 L478.3,279.0 L478.3,281.8 L469.5,281.8 L469.5,279.0 L467.1,279.0 L467.1,276.2 L464.6,276.2 L464.6,266.6 L467.1,266.6 L467.1,263.8 L469.5,263.8Z" fill="#4472C4"/><path d="M493.0,261.0 L501.8,261.0 L501.8,263.8 L504.2,263.8 L504.2,266.6 L506.6,266.6 L506.6,276.2 L504.2,276.2 L504.2,279.0 L501.8,279.0 L501.8,281.8 L493.0,281.8 L493.0,279.0 L490.6,279.0 L490.6,276.2 L488.1,276.2 L488.1,266.6 L490.6,266.6 L490.6,263.8 L493.0,263.8Z" fill="#4472C4"/><path d="M516.5,263.4 L525.3,263.4 L525.3,266.2 L527.7,266.2 L527.7,269.0 L530.1,269.0 L530.1,278.6 L527.7,278.6 L527.7,281.4 L525.3,281.4 L525.3,284.2 L516.5,284.2 L516.5,281.4 L514.1,281.4 L514.1,278.6 L511.6,278.6 L511.6,269.0 L514.1,269.0 L514.1,266.2 L516.5,266.2Z" fill="#4472C4"/><path d="M542.6,263.4 L551.4,263.4 L551.4,266.2 L553.8,266.2 L553.8,269.0 L556.2,269.0 L556.2,278.6 L553.8,278.6 L553.8,281.4 L551.4,281.4 L551.4,284.2 L542.6,284.2 L542.6,281.4 L540.2,281.4 L540.2,278.6 L537.8,278.6 L537.8,269.0 L540.2,269.0 L540.2,266.2 L542.6,266.2Z" fill="#4472C4"/><path d="M565.8,266.3 L574.6,266.3 L574.6,269.1 L577.0,269.1 L577.0,271.9 L579.5,271.9 L579.5,281.5 L577.0,281.5 L577.0,284.3 L574.6,284.3 L574.6,287.1 L565.8,287.1 L565.8,284.3 L563.4,284.3 L563.4,281.5 L561.0,281.5 L561.0,271.9 L563.4,271.9 L563.4,269.1 L565.8,269.1Z" fill="#4472C4"/><path d="M589.7,266.3 L598.5,266.3 L598.5,269.1 L600.9,269.1 L600.9,271.9 L603.4,271.9 L603.4,281.5 L600.9,281.5 L600.9,284.3 L598.5,284.3 L598.5,287.1 L589.7,287.1 L589.7,284.3 L587.3,284.3 L587.3,281.5 L584.9,281.5 L584.9,271.9 L587.3,271.9 L587.3,269.1 L589.7,269.1Z" fill="#4472C4"/><path d="M613.1,268.3 L621.9,268.3 L621.9,271.1 L624.3,271.1 L624.3,273.9 L626.8,273.9 L626.8,283.5 L624.3,283.5 L624.3,286.3 L621.9,286.3 L621.9,289.1 L613.1,289.1 L613.1,286.3 L610.7,286.3 L610.7,283.5 L608.2,283.5 L608.2,273.9 L610.7,273.9 L610.7,271.1 L613.1,271.1Z" fill="#4472C4"/><path d="M636.7,268.3 L645.5,268.3 L645.5,271.1 L647.9,271.1 L647.9,273.9 L650.4,273.9 L650.4,283.5 L647.9,283.5 L647.9,286.3 L645.5,286.3 L645.5,289.1 L636.7,289.1 L636.7,286.3 L634.3,286.3 L634.3,283.5 L631.9,283.5 L631.9,273.9 L634.3,273.9 L634.3,271.1 L636.7,271.1Z" fill="#4472C4"/><path d="M660.0,271.2 L668.8,271.2 L668.8,274.0 L671.2,274.0 L671.2,276.8 L673.6,276.8 L673.6,286.4 L671.2,286.4 L671.2,289.2 L668.8,289.2 L668.8,292.0 L660.0,292.0 L660.0,289.2 L657.6,289.2 L657.6,286.4 L655.1,286.4 L655.1,276.8 L657.6,276.8 L657.6,274.0 L660.0,274.0Z" fill="#4472C4"/><polyline points="309.0,189.8 380.0,189.8 427.3,192.2 450.5,194.9 473.9,197.3 497.4,200.1 520.9,205.2 547.0,210.7 570.2,210.7 594.1,212.8 617.5,215.5 641.1,218.3 664.4,220.7" fill="none" stroke="#70AD47" stroke-opacity="0.45" stroke-width="7.5" stroke-linejoin="round"/><polyline points="309.0,189.8 380.0,189.8 427.3,192.2 450.5,194.9 473.9,197.3 497.4,200.1 520.9,205.2 547.0,210.7 570.2,210.7 594.1,212.8 617.5,215.5 641.1,218.3 664.4,220.7" fill="none" stroke="#70AD47" stroke-width="3.4" stroke-linejoin="round"/><path d="M304.6,178.2 L313.4,178.2 L313.4,181.0 L315.8,181.0 L315.8,183.8 L318.2,183.8 L318.2,193.4 L315.8,193.4 L315.8,196.2 L313.4,196.2 L313.4,199.0 L304.6,199.0 L304.6,196.2 L302.2,196.2 L302.2,193.4 L299.8,193.4 L299.8,183.8 L302.2,183.8 L302.2,181.0 L304.6,181.0Z" fill="#70AD47"/><path d="M375.6,178.2 L384.4,178.2 L384.4,181.0 L386.8,181.0 L386.8,183.8 L389.2,183.8 L389.2,193.4 L386.8,193.4 L386.8,196.2 L384.4,196.2 L384.4,199.0 L375.6,199.0 L375.6,196.2 L373.2,196.2 L373.2,193.4 L370.8,193.4 L370.8,183.8 L373.2,183.8 L373.2,181.0 L375.6,181.0Z" fill="#70AD47"/><path d="M422.9,180.6 L431.7,180.6 L431.7,183.4 L434.1,183.4 L434.1,186.2 L436.6,186.2 L436.6,195.8 L434.1,195.8 L434.1,198.6 L431.7,198.6 L431.7,201.4 L422.9,201.4 L422.9,198.6 L420.5,198.6 L420.5,195.8 L418.1,195.8 L418.1,186.2 L420.5,186.2 L420.5,183.4 L422.9,183.4Z" fill="#70AD47"/><path d="M446.1,183.3 L454.9,183.3 L454.9,186.1 L457.3,186.1 L457.3,188.9 L459.8,188.9 L459.8,198.5 L457.3,198.5 L457.3,201.3 L454.9,201.3 L454.9,204.1 L446.1,204.1 L446.1,201.3 L443.7,201.3 L443.7,198.5 L441.2,198.5 L441.2,188.9 L443.7,188.9 L443.7,186.1 L446.1,186.1Z" fill="#70AD47"/><path d="M469.5,185.7 L478.3,185.7 L478.3,188.5 L480.7,188.5 L480.7,191.3 L483.1,191.3 L483.1,200.9 L480.7,200.9 L480.7,203.7 L478.3,203.7 L478.3,206.5 L469.5,206.5 L469.5,203.7 L467.1,203.7 L467.1,200.9 L464.6,200.9 L464.6,191.3 L467.1,191.3 L467.1,188.5 L469.5,188.5Z" fill="#70AD47"/><path d="M493.0,188.5 L501.8,188.5 L501.8,191.3 L504.2,191.3 L504.2,194.1 L506.6,194.1 L506.6,203.7 L504.2,203.7 L504.2,206.5 L501.8,206.5 L501.8,209.3 L493.0,209.3 L493.0,206.5 L490.6,206.5 L490.6,203.7 L488.1,203.7 L488.1,194.1 L490.6,194.1 L490.6,191.3 L493.0,191.3Z" fill="#70AD47"/><path d="M516.5,193.6 L525.3,193.6 L525.3,196.4 L527.7,196.4 L527.7,199.2 L530.1,199.2 L530.1,208.8 L527.7,208.8 L527.7,211.6 L525.3,211.6 L525.3,214.4 L516.5,214.4 L516.5,211.6 L514.1,211.6 L514.1,208.8 L511.6,208.8 L511.6,199.2 L514.1,199.2 L514.1,196.4 L516.5,196.4Z" fill="#70AD47"/><path d="M542.6,199.1 L551.4,199.1 L551.4,201.9 L553.8,201.9 L553.8,204.7 L556.2,204.7 L556.2,214.3 L553.8,214.3 L553.8,217.1 L551.4,217.1 L551.4,219.9 L542.6,219.9 L542.6,217.1 L540.2,217.1 L540.2,214.3 L537.8,214.3 L537.8,204.7 L540.2,204.7 L540.2,201.9 L542.6,201.9Z" fill="#70AD47"/><path d="M565.8,199.1 L574.6,199.1 L574.6,201.9 L577.0,201.9 L577.0,204.7 L579.5,204.7 L579.5,214.3 L577.0,214.3 L577.0,217.1 L574.6,217.1 L574.6,219.9 L565.8,219.9 L565.8,217.1 L563.4,217.1 L563.4,214.3 L561.0,214.3 L561.0,204.7 L563.4,204.7 L563.4,201.9 L565.8,201.9Z" fill="#70AD47"/><path d="M589.7,201.2 L598.5,201.2 L598.5,204.0 L600.9,204.0 L600.9,206.8 L603.4,206.8 L603.4,216.4 L600.9,216.4 L600.9,219.2 L598.5,219.2 L598.5,222.0 L589.7,222.0 L589.7,219.2 L587.3,219.2 L587.3,216.4 L584.9,216.4 L584.9,206.8 L587.3,206.8 L587.3,204.0 L589.7,204.0Z" fill="#70AD47"/><path d="M613.1,203.9 L621.9,203.9 L621.9,206.7 L624.3,206.7 L624.3,209.5 L626.8,209.5 L626.8,219.1 L624.3,219.1 L624.3,221.9 L621.9,221.9 L621.9,224.7 L613.1,224.7 L613.1,221.9 L610.7,221.9 L610.7,219.1 L608.2,219.1 L608.2,209.5 L610.7,209.5 L610.7,206.7 L613.1,206.7Z" fill="#70AD47"/><path d="M636.7,206.7 L645.5,206.7 L645.5,209.5 L647.9,209.5 L647.9,212.3 L650.4,212.3 L650.4,221.9 L647.9,221.9 L647.9,224.7 L645.5,224.7 L645.5,227.5 L636.7,227.5 L636.7,224.7 L634.3,224.7 L634.3,221.9 L631.9,221.9 L631.9,212.3 L634.3,212.3 L634.3,209.5 L636.7,209.5Z" fill="#70AD47"/><path d="M660.0,209.1 L668.8,209.1 L668.8,211.9 L671.2,211.9 L671.2,214.7 L673.6,214.7 L673.6,224.3 L671.2,224.3 L671.2,227.1 L668.8,227.1 L668.8,229.9 L660.0,229.9 L660.0,227.1 L657.6,227.1 L657.6,224.3 L655.1,224.3 L655.1,214.7 L657.6,214.7 L657.6,211.9 L660.0,211.9Z" fill="#70AD47"/><polyline points="309.0,143.4 380.0,143.4 427.3,145.8 450.5,148.5 473.9,148.5 497.4,150.9 520.9,150.9 547.0,150.9 570.2,153.3 594.1,156.1 617.5,158.8 641.1,163.7 664.4,163.7" fill="none" stroke="#255E91" stroke-opacity="0.45" stroke-width="7.5" stroke-linejoin="round"/><polyline points="309.0,143.4 380.0,143.4 427.3,145.8 450.5,148.5 473.9,148.5 497.4,150.9 520.9,150.9 547.0,150.9 570.2,153.3 594.1,156.1 617.5,158.8 641.1,163.7 664.4,163.7" fill="none" stroke="#255E91" stroke-width="3.4" stroke-linejoin="round"/><path d="M304.6,131.8 L313.4,131.8 L313.4,134.6 L315.8,134.6 L315.8,137.4 L318.2,137.4 L318.2,147.0 L315.8,147.0 L315.8,149.8 L313.4,149.8 L313.4,152.6 L304.6,152.6 L304.6,149.8 L302.2,149.8 L302.2,147.0 L299.8,147.0 L299.8,137.4 L302.2,137.4 L302.2,134.6 L304.6,134.6Z" fill="#255E91"/><path d="M375.6,131.8 L384.4,131.8 L384.4,134.6 L386.8,134.6 L386.8,137.4 L389.2,137.4 L389.2,147.0 L386.8,147.0 L386.8,149.8 L384.4,149.8 L384.4,152.6 L375.6,152.6 L375.6,149.8 L373.2,149.8 L373.2,147.0 L370.8,147.0 L370.8,137.4 L373.2,137.4 L373.2,134.6 L375.6,134.6Z" fill="#255E91"/><path d="M422.9,134.2 L431.7,134.2 L431.7,137.0 L434.1,137.0 L434.1,139.8 L436.6,139.8 L436.6,149.4 L434.1,149.4 L434.1,152.2 L431.7,152.2 L431.7,155.0 L422.9,155.0 L422.9,152.2 L420.5,152.2 L420.5,149.4 L418.1,149.4 L418.1,139.8 L420.5,139.8 L420.5,137.0 L422.9,137.0Z" fill="#255E91"/><path d="M446.1,136.9 L454.9,136.9 L454.9,139.7 L457.3,139.7 L457.3,142.5 L459.8,142.5 L459.8,152.1 L457.3,152.1 L457.3,154.9 L454.9,154.9 L454.9,157.7 L446.1,157.7 L446.1,154.9 L443.7,154.9 L443.7,152.1 L441.2,152.1 L441.2,142.5 L443.7,142.5 L443.7,139.7 L446.1,139.7Z" fill="#255E91"/><path d="M469.5,136.9 L478.3,136.9 L478.3,139.7 L480.7,139.7 L480.7,142.5 L483.1,142.5 L483.1,152.1 L480.7,152.1 L480.7,154.9 L478.3,154.9 L478.3,157.7 L469.5,157.7 L469.5,154.9 L467.1,154.9 L467.1,152.1 L464.6,152.1 L464.6,142.5 L467.1,142.5 L467.1,139.7 L469.5,139.7Z" fill="#255E91"/><path d="M493.0,139.3 L501.8,139.3 L501.8,142.1 L504.2,142.1 L504.2,144.9 L506.6,144.9 L506.6,154.5 L504.2,154.5 L504.2,157.3 L501.8,157.3 L501.8,160.1 L493.0,160.1 L493.0,157.3 L490.6,157.3 L490.6,154.5 L488.1,154.5 L488.1,144.9 L490.6,144.9 L490.6,142.1 L493.0,142.1Z" fill="#255E91"/><path d="M516.5,139.3 L525.3,139.3 L525.3,142.1 L527.7,142.1 L527.7,144.9 L530.1,144.9 L530.1,154.5 L527.7,154.5 L527.7,157.3 L525.3,157.3 L525.3,160.1 L516.5,160.1 L516.5,157.3 L514.1,157.3 L514.1,154.5 L511.6,154.5 L511.6,144.9 L514.1,144.9 L514.1,142.1 L516.5,142.1Z" fill="#255E91"/><path d="M542.6,139.3 L551.4,139.3 L551.4,142.1 L553.8,142.1 L553.8,144.9 L556.2,144.9 L556.2,154.5 L553.8,154.5 L553.8,157.3 L551.4,157.3 L551.4,160.1 L542.6,160.1 L542.6,157.3 L540.2,157.3 L540.2,154.5 L537.8,154.5 L537.8,144.9 L540.2,144.9 L540.2,142.1 L542.6,142.1Z" fill="#255E91"/><path d="M565.8,141.7 L574.6,141.7 L574.6,144.5 L577.0,144.5 L577.0,147.3 L579.5,147.3 L579.5,156.9 L577.0,156.9 L577.0,159.7 L574.6,159.7 L574.6,162.5 L565.8,162.5 L565.8,159.7 L563.4,159.7 L563.4,156.9 L561.0,156.9 L561.0,147.3 L563.4,147.3 L563.4,144.5 L565.8,144.5Z" fill="#255E91"/><path d="M589.7,144.5 L598.5,144.5 L598.5,147.3 L600.9,147.3 L600.9,150.1 L603.4,150.1 L603.4,159.7 L600.9,159.7 L600.9,162.5 L598.5,162.5 L598.5,165.3 L589.7,165.3 L589.7,162.5 L587.3,162.5 L587.3,159.7 L584.9,159.7 L584.9,150.1 L587.3,150.1 L587.3,147.3 L589.7,147.3Z" fill="#255E91"/><path d="M613.1,147.2 L621.9,147.2 L621.9,150.0 L624.3,150.0 L624.3,152.8 L626.8,152.8 L626.8,162.4 L624.3,162.4 L624.3,165.2 L621.9,165.2 L621.9,168.0 L613.1,168.0 L613.1,165.2 L610.7,165.2 L610.7,162.4 L608.2,162.4 L608.2,152.8 L610.7,152.8 L610.7,150.0 L613.1,150.0Z" fill="#255E91"/><path d="M636.7,152.1 L645.5,152.1 L645.5,154.9 L647.9,154.9 L647.9,157.7 L650.4,157.7 L650.4,167.3 L647.9,167.3 L647.9,170.1 L645.5,170.1 L645.5,172.9 L636.7,172.9 L636.7,170.1 L634.3,170.1 L634.3,167.3 L631.9,167.3 L631.9,157.7 L634.3,157.7 L634.3,154.9 L636.7,154.9Z" fill="#255E91"/><path d="M660.0,152.1 L668.8,152.1 L668.8,154.9 L671.2,154.9 L671.2,157.7 L673.6,157.7 L673.6,167.3 L671.2,167.3 L671.2,170.1 L668.8,170.1 L668.8,172.9 L660.0,172.9 L660.0,170.1 L657.6,170.1 L657.6,167.3 L655.1,167.3 L655.1,157.7 L657.6,157.7 L657.6,154.9 L660.0,154.9Z" fill="#255E91"/><polyline points="309.0,96.9 380.0,99.5 427.3,99.5 450.5,99.5 473.9,99.5 497.4,101.7 520.9,101.7 547.0,101.7 570.2,104.5 594.1,104.5 617.5,106.7 641.1,106.7 664.4,109.7" fill="none" stroke="#9E480E" stroke-opacity="0.45" stroke-width="7.5" stroke-linejoin="round"/><polyline points="309.0,96.9 380.0,99.5 427.3,99.5 450.5,99.5 473.9,99.5 497.4,101.7 520.9,101.7 547.0,101.7 570.2,104.5 594.1,104.5 617.5,106.7 641.1,106.7 664.4,109.7" fill="none" stroke="#9E480E" stroke-width="3.4" stroke-linejoin="round"/><path d="M304.6,85.3 L313.4,85.3 L313.4,88.1 L315.8,88.1 L315.8,90.9 L318.2,90.9 L318.2,100.5 L315.8,100.5 L315.8,103.3 L313.4,103.3 L313.4,106.1 L304.6,106.1 L304.6,103.3 L302.2,103.3 L302.2,100.5 L299.8,100.5 L299.8,90.9 L302.2,90.9 L302.2,88.1 L304.6,88.1Z" fill="#9E480E"/><path d="M375.6,87.9 L384.4,87.9 L384.4,90.7 L386.8,90.7 L386.8,93.5 L389.2,93.5 L389.2,103.1 L386.8,103.1 L386.8,105.9 L384.4,105.9 L384.4,108.7 L375.6,108.7 L375.6,105.9 L373.2,105.9 L373.2,103.1 L370.8,103.1 L370.8,93.5 L373.2,93.5 L373.2,90.7 L375.6,90.7Z" fill="#9E480E"/><path d="M422.9,87.9 L431.7,87.9 L431.7,90.7 L434.1,90.7 L434.1,93.5 L436.6,93.5 L436.6,103.1 L434.1,103.1 L434.1,105.9 L431.7,105.9 L431.7,108.7 L422.9,108.7 L422.9,105.9 L420.5,105.9 L420.5,103.1 L418.1,103.1 L418.1,93.5 L420.5,93.5 L420.5,90.7 L422.9,90.7Z" fill="#9E480E"/><path d="M446.1,87.9 L454.9,87.9 L454.9,90.7 L457.3,90.7 L457.3,93.5 L459.8,93.5 L459.8,103.1 L457.3,103.1 L457.3,105.9 L454.9,105.9 L454.9,108.7 L446.1,108.7 L446.1,105.9 L443.7,105.9 L443.7,103.1 L441.2,103.1 L441.2,93.5 L443.7,93.5 L443.7,90.7 L446.1,90.7Z" fill="#9E480E"/><path d="M469.5,87.9 L478.3,87.9 L478.3,90.7 L480.7,90.7 L480.7,93.5 L483.1,93.5 L483.1,103.1 L480.7,103.1 L480.7,105.9 L478.3,105.9 L478.3,108.7 L469.5,108.7 L469.5,105.9 L467.1,105.9 L467.1,103.1 L464.6,103.1 L464.6,93.5 L467.1,93.5 L467.1,90.7 L469.5,90.7Z" fill="#9E480E"/><path d="M493.0,90.1 L501.8,90.1 L501.8,92.9 L504.2,92.9 L504.2,95.7 L506.6,95.7 L506.6,105.3 L504.2,105.3 L504.2,108.1 L501.8,108.1 L501.8,110.9 L493.0,110.9 L493.0,108.1 L490.6,108.1 L490.6,105.3 L488.1,105.3 L488.1,95.7 L490.6,95.7 L490.6,92.9 L493.0,92.9Z" fill="#9E480E"/><path d="M516.5,90.1 L525.3,90.1 L525.3,92.9 L527.7,92.9 L527.7,95.7 L530.1,95.7 L530.1,105.3 L527.7,105.3 L527.7,108.1 L525.3,108.1 L525.3,110.9 L516.5,110.9 L516.5,108.1 L514.1,108.1 L514.1,105.3 L511.6,105.3 L511.6,95.7 L514.1,95.7 L514.1,92.9 L516.5,92.9Z" fill="#9E480E"/><path d="M542.6,90.1 L551.4,90.1 L551.4,92.9 L553.8,92.9 L553.8,95.7 L556.2,95.7 L556.2,105.3 L553.8,105.3 L553.8,108.1 L551.4,108.1 L551.4,110.9 L542.6,110.9 L542.6,108.1 L540.2,108.1 L540.2,105.3 L537.8,105.3 L537.8,95.7 L540.2,95.7 L540.2,92.9 L542.6,92.9Z" fill="#9E480E"/><path d="M565.8,92.9 L574.6,92.9 L574.6,95.7 L577.0,95.7 L577.0,98.5 L579.5,98.5 L579.5,108.1 L577.0,108.1 L577.0,110.9 L574.6,110.9 L574.6,113.7 L565.8,113.7 L565.8,110.9 L563.4,110.9 L563.4,108.1 L561.0,108.1 L561.0,98.5 L563.4,98.5 L563.4,95.7 L565.8,95.7Z" fill="#9E480E"/><path d="M589.7,92.9 L598.5,92.9 L598.5,95.7 L600.9,95.7 L600.9,98.5 L603.4,98.5 L603.4,108.1 L600.9,108.1 L600.9,110.9 L598.5,110.9 L598.5,113.7 L589.7,113.7 L589.7,110.9 L587.3,110.9 L587.3,108.1 L584.9,108.1 L584.9,98.5 L587.3,98.5 L587.3,95.7 L589.7,95.7Z" fill="#9E480E"/><path d="M613.1,95.1 L621.9,95.1 L621.9,97.9 L624.3,97.9 L624.3,100.7 L626.8,100.7 L626.8,110.3 L624.3,110.3 L624.3,113.1 L621.9,113.1 L621.9,115.9 L613.1,115.9 L613.1,113.1 L610.7,113.1 L610.7,110.3 L608.2,110.3 L608.2,100.7 L610.7,100.7 L610.7,97.9 L613.1,97.9Z" fill="#9E480E"/><path d="M636.7,95.1 L645.5,95.1 L645.5,97.9 L647.9,97.9 L647.9,100.7 L650.4,100.7 L650.4,110.3 L647.9,110.3 L647.9,113.1 L645.5,113.1 L645.5,115.9 L636.7,115.9 L636.7,113.1 L634.3,113.1 L634.3,110.3 L631.9,110.3 L631.9,100.7 L634.3,100.7 L634.3,97.9 L636.7,97.9Z" fill="#9E480E"/><path d="M660.0,98.1 L668.8,98.1 L668.8,100.9 L671.2,100.9 L671.2,103.7 L673.6,103.7 L673.6,113.3 L671.2,113.3 L671.2,116.1 L668.8,116.1 L668.8,118.9 L660.0,118.9 L660.0,116.1 L657.6,116.1 L657.6,113.3 L655.1,113.3 L655.1,103.7 L657.6,103.7 L657.6,100.9 L660.0,100.9Z" fill="#9E480E"/><polyline points="1292.2,129.2 1363.0,129.2 1410.2,129.2 1436.2,129.2 1459.5,123.8 1483.0,123.9 1506.5,122.0 1530.5,115.3 1553.8,110.1 1580.0,104.5 1603.5,99.9 1627.3,101.0 1651.0,102.0" fill="none" stroke="#5B9BD5" stroke-opacity="0.45" stroke-width="7.5" stroke-linejoin="round"/><polyline points="1292.2,129.2 1363.0,129.2 1410.2,129.2 1436.2,129.2 1459.5,123.8 1483.0,123.9 1506.5,122.0 1530.5,115.3 1553.8,110.1 1580.0,104.5 1603.5,99.9 1627.3,101.0 1651.0,102.0" fill="none" stroke="#5B9BD5" stroke-width="3.4" stroke-linejoin="round"/><path d="M1287.7,117.9 L1296.7,117.9 L1296.7,120.8 L1299.1,120.8 L1299.1,123.8 L1301.7,123.8 L1301.7,133.6 L1299.1,133.6 L1299.1,136.6 L1296.7,136.6 L1296.7,139.4 L1287.7,139.4 L1287.7,136.6 L1285.3,136.6 L1285.3,133.6 L1282.8,133.6 L1282.8,123.8 L1285.3,123.8 L1285.3,120.8 L1287.7,120.8Z" fill="#5B9BD5"/><path d="M1358.5,117.9 L1367.5,117.9 L1367.5,120.8 L1369.9,120.8 L1369.9,123.8 L1372.5,123.8 L1372.5,133.6 L1369.9,133.6 L1369.9,136.6 L1367.5,136.6 L1367.5,139.4 L1358.5,139.4 L1358.5,136.6 L1356.1,136.6 L1356.1,133.6 L1353.5,133.6 L1353.5,123.8 L1356.1,123.8 L1356.1,120.8 L1358.5,120.8Z" fill="#5B9BD5"/><path d="M1405.7,117.9 L1414.7,117.9 L1414.7,120.8 L1417.1,120.8 L1417.1,123.8 L1419.7,123.8 L1419.7,133.6 L1417.1,133.6 L1417.1,136.6 L1414.7,136.6 L1414.7,139.4 L1405.7,139.4 L1405.7,136.6 L1403.3,136.6 L1403.3,133.6 L1400.8,133.6 L1400.8,123.8 L1403.3,123.8 L1403.3,120.8 L1405.7,120.8Z" fill="#5B9BD5"/><path d="M1431.7,117.9 L1440.7,117.9 L1440.7,120.8 L1443.1,120.8 L1443.1,123.8 L1445.7,123.8 L1445.7,133.6 L1443.1,133.6 L1443.1,136.6 L1440.7,136.6 L1440.7,139.4 L1431.7,139.4 L1431.7,136.6 L1429.3,136.6 L1429.3,133.6 L1426.8,133.6 L1426.8,123.8 L1429.3,123.8 L1429.3,120.8 L1431.7,120.8Z" fill="#5B9BD5"/><path d="M1455.0,112.5 L1464.0,112.5 L1464.0,115.4 L1466.4,115.4 L1466.4,118.4 L1469.0,118.4 L1469.0,128.2 L1466.4,128.2 L1466.4,131.2 L1464.0,131.2 L1464.0,134.1 L1455.0,134.1 L1455.0,131.2 L1452.6,131.2 L1452.6,128.2 L1450.0,128.2 L1450.0,118.4 L1452.6,118.4 L1452.6,115.4 L1455.0,115.4Z" fill="#5B9BD5"/><path d="M1478.5,112.7 L1487.5,112.7 L1487.5,115.5 L1489.9,115.5 L1489.9,118.5 L1492.5,118.5 L1492.5,128.3 L1489.9,128.3 L1489.9,131.3 L1487.5,131.3 L1487.5,134.2 L1478.5,134.2 L1478.5,131.3 L1476.1,131.3 L1476.1,128.3 L1473.5,128.3 L1473.5,118.5 L1476.1,118.5 L1476.1,115.5 L1478.5,115.5Z" fill="#5B9BD5"/><path d="M1502.0,110.8 L1511.0,110.8 L1511.0,113.6 L1513.4,113.6 L1513.4,116.6 L1516.0,116.6 L1516.0,126.4 L1513.4,126.4 L1513.4,129.4 L1511.0,129.4 L1511.0,132.2 L1502.0,132.2 L1502.0,129.4 L1499.6,129.4 L1499.6,126.4 L1497.0,126.4 L1497.0,116.6 L1499.6,116.6 L1499.6,113.6 L1502.0,113.6Z" fill="#5B9BD5"/><path d="M1526.0,104.0 L1535.0,104.0 L1535.0,106.9 L1537.4,106.9 L1537.4,109.9 L1540.0,109.9 L1540.0,119.7 L1537.4,119.7 L1537.4,122.7 L1535.0,122.7 L1535.0,125.5 L1526.0,125.5 L1526.0,122.7 L1523.6,122.7 L1523.6,119.7 L1521.0,119.7 L1521.0,109.9 L1523.6,109.9 L1523.6,106.9 L1526.0,106.9Z" fill="#5B9BD5"/><path d="M1549.3,98.8 L1558.3,98.8 L1558.3,101.7 L1560.7,101.7 L1560.7,104.7 L1563.2,104.7 L1563.2,114.5 L1560.7,114.5 L1560.7,117.5 L1558.3,117.5 L1558.3,120.3 L1549.3,120.3 L1549.3,117.5 L1546.9,117.5 L1546.9,114.5 L1544.3,114.5 L1544.3,104.7 L1546.9,104.7 L1546.9,101.7 L1549.3,101.7Z" fill="#5B9BD5"/><path d="M1575.5,93.2 L1584.5,93.2 L1584.5,96.1 L1586.9,96.1 L1586.9,99.1 L1589.5,99.1 L1589.5,108.9 L1586.9,108.9 L1586.9,111.9 L1584.5,111.9 L1584.5,114.8 L1575.5,114.8 L1575.5,111.9 L1573.1,111.9 L1573.1,108.9 L1570.5,108.9 L1570.5,99.1 L1573.1,99.1 L1573.1,96.1 L1575.5,96.1Z" fill="#5B9BD5"/><path d="M1599.0,88.7 L1608.0,88.7 L1608.0,91.5 L1610.4,91.5 L1610.4,94.5 L1613.0,94.5 L1613.0,104.3 L1610.4,104.3 L1610.4,107.3 L1608.0,107.3 L1608.0,110.2 L1599.0,110.2 L1599.0,107.3 L1596.6,107.3 L1596.6,104.3 L1594.0,104.3 L1594.0,94.5 L1596.6,94.5 L1596.6,91.5 L1599.0,91.5Z" fill="#5B9BD5"/><path d="M1622.8,89.8 L1631.8,89.8 L1631.8,92.6 L1634.2,92.6 L1634.2,95.6 L1636.8,95.6 L1636.8,105.4 L1634.2,105.4 L1634.2,108.4 L1631.8,108.4 L1631.8,111.2 L1622.8,111.2 L1622.8,108.4 L1620.4,108.4 L1620.4,105.4 L1617.8,105.4 L1617.8,95.6 L1620.4,95.6 L1620.4,92.6 L1622.8,92.6Z" fill="#5B9BD5"/><path d="M1646.5,90.8 L1655.5,90.8 L1655.5,93.6 L1657.9,93.6 L1657.9,96.6 L1660.5,96.6 L1660.5,106.4 L1657.9,106.4 L1657.9,109.4 L1655.5,109.4 L1655.5,112.2 L1646.5,112.2 L1646.5,109.4 L1644.1,109.4 L1644.1,106.4 L1641.5,106.4 L1641.5,96.6 L1644.1,96.6 L1644.1,93.6 L1646.5,93.6Z" fill="#5B9BD5"/><polyline points="1292.2,376.2 1363.0,376.2 1410.2,376.2 1436.2,370.2 1459.5,362.7 1483.0,360.2 1506.5,357.2 1530.5,352.2 1553.8,349.2 1580.0,346.0 1603.5,343.5 1627.3,341.0 1651.0,339.0" fill="none" stroke="#ED7D31" stroke-opacity="0.45" stroke-width="7.5" stroke-linejoin="round"/><polyline points="1292.2,376.2 1363.0,376.2 1410.2,376.2 1436.2,370.2 1459.5,362.7 1483.0,360.2 1506.5,357.2 1530.5,352.2 1553.8,349.2 1580.0,346.0 1603.5,343.5 1627.3,341.0 1651.0,339.0" fill="none" stroke="#ED7D31" stroke-width="3.4" stroke-linejoin="round"/><path d="M1287.7,364.9 L1296.7,364.9 L1296.7,367.8 L1299.1,367.8 L1299.1,370.8 L1301.7,370.8 L1301.7,380.6 L1299.1,380.6 L1299.1,383.6 L1296.7,383.6 L1296.7,386.4 L1287.7,386.4 L1287.7,383.6 L1285.3,383.6 L1285.3,380.6 L1282.8,380.6 L1282.8,370.8 L1285.3,370.8 L1285.3,367.8 L1287.7,367.8Z" fill="#ED7D31"/><path d="M1358.5,364.9 L1367.5,364.9 L1367.5,367.8 L1369.9,367.8 L1369.9,370.8 L1372.5,370.8 L1372.5,380.6 L1369.9,380.6 L1369.9,383.6 L1367.5,383.6 L1367.5,386.4 L1358.5,386.4 L1358.5,383.6 L1356.1,383.6 L1356.1,380.6 L1353.5,380.6 L1353.5,370.8 L1356.1,370.8 L1356.1,367.8 L1358.5,367.8Z" fill="#ED7D31"/><path d="M1405.7,364.9 L1414.7,364.9 L1414.7,367.8 L1417.1,367.8 L1417.1,370.8 L1419.7,370.8 L1419.7,380.6 L1417.1,380.6 L1417.1,383.6 L1414.7,383.6 L1414.7,386.4 L1405.7,386.4 L1405.7,383.6 L1403.3,383.6 L1403.3,380.6 L1400.8,380.6 L1400.8,370.8 L1403.3,370.8 L1403.3,367.8 L1405.7,367.8Z" fill="#ED7D31"/><path d="M1431.7,358.9 L1440.7,358.9 L1440.7,361.8 L1443.1,361.8 L1443.1,364.8 L1445.7,364.8 L1445.7,374.6 L1443.1,374.6 L1443.1,377.6 L1440.7,377.6 L1440.7,380.4 L1431.7,380.4 L1431.7,377.6 L1429.3,377.6 L1429.3,374.6 L1426.8,374.6 L1426.8,364.8 L1429.3,364.8 L1429.3,361.8 L1431.7,361.8Z" fill="#ED7D31"/><path d="M1455.0,351.4 L1464.0,351.4 L1464.0,354.3 L1466.4,354.3 L1466.4,357.3 L1469.0,357.3 L1469.0,367.1 L1466.4,367.1 L1466.4,370.1 L1464.0,370.1 L1464.0,372.9 L1455.0,372.9 L1455.0,370.1 L1452.6,370.1 L1452.6,367.1 L1450.0,367.1 L1450.0,357.3 L1452.6,357.3 L1452.6,354.3 L1455.0,354.3Z" fill="#ED7D31"/><path d="M1478.5,348.9 L1487.5,348.9 L1487.5,351.8 L1489.9,351.8 L1489.9,354.8 L1492.5,354.8 L1492.5,364.6 L1489.9,364.6 L1489.9,367.6 L1487.5,367.6 L1487.5,370.4 L1478.5,370.4 L1478.5,367.6 L1476.1,367.6 L1476.1,364.6 L1473.5,364.6 L1473.5,354.8 L1476.1,354.8 L1476.1,351.8 L1478.5,351.8Z" fill="#ED7D31"/><path d="M1502.0,345.9 L1511.0,345.9 L1511.0,348.8 L1513.4,348.8 L1513.4,351.8 L1516.0,351.8 L1516.0,361.6 L1513.4,361.6 L1513.4,364.6 L1511.0,364.6 L1511.0,367.4 L1502.0,367.4 L1502.0,364.6 L1499.6,364.6 L1499.6,361.6 L1497.0,361.6 L1497.0,351.8 L1499.6,351.8 L1499.6,348.8 L1502.0,348.8Z" fill="#ED7D31"/><path d="M1526.0,340.9 L1535.0,340.9 L1535.0,343.8 L1537.4,343.8 L1537.4,346.8 L1540.0,346.8 L1540.0,356.6 L1537.4,356.6 L1537.4,359.6 L1535.0,359.6 L1535.0,362.4 L1526.0,362.4 L1526.0,359.6 L1523.6,359.6 L1523.6,356.6 L1521.0,356.6 L1521.0,346.8 L1523.6,346.8 L1523.6,343.8 L1526.0,343.8Z" fill="#ED7D31"/><path d="M1549.3,337.9 L1558.3,337.9 L1558.3,340.8 L1560.7,340.8 L1560.7,343.8 L1563.2,343.8 L1563.2,353.6 L1560.7,353.6 L1560.7,356.6 L1558.3,356.6 L1558.3,359.4 L1549.3,359.4 L1549.3,356.6 L1546.9,356.6 L1546.9,353.6 L1544.3,353.6 L1544.3,343.8 L1546.9,343.8 L1546.9,340.8 L1549.3,340.8Z" fill="#ED7D31"/><path d="M1575.5,334.8 L1584.5,334.8 L1584.5,337.6 L1586.9,337.6 L1586.9,340.6 L1589.5,340.6 L1589.5,350.4 L1586.9,350.4 L1586.9,353.4 L1584.5,353.4 L1584.5,356.2 L1575.5,356.2 L1575.5,353.4 L1573.1,353.4 L1573.1,350.4 L1570.5,350.4 L1570.5,340.6 L1573.1,340.6 L1573.1,337.6 L1575.5,337.6Z" fill="#ED7D31"/><path d="M1599.0,332.2 L1608.0,332.2 L1608.0,335.1 L1610.4,335.1 L1610.4,338.1 L1613.0,338.1 L1613.0,347.9 L1610.4,347.9 L1610.4,350.9 L1608.0,350.9 L1608.0,353.8 L1599.0,353.8 L1599.0,350.9 L1596.6,350.9 L1596.6,347.9 L1594.0,347.9 L1594.0,338.1 L1596.6,338.1 L1596.6,335.1 L1599.0,335.1Z" fill="#ED7D31"/><path d="M1622.8,329.8 L1631.8,329.8 L1631.8,332.6 L1634.2,332.6 L1634.2,335.6 L1636.8,335.6 L1636.8,345.4 L1634.2,345.4 L1634.2,348.4 L1631.8,348.4 L1631.8,351.2 L1622.8,351.2 L1622.8,348.4 L1620.4,348.4 L1620.4,345.4 L1617.8,345.4 L1617.8,335.6 L1620.4,335.6 L1620.4,332.6 L1622.8,332.6Z" fill="#ED7D31"/><path d="M1646.5,327.8 L1655.5,327.8 L1655.5,330.6 L1657.9,330.6 L1657.9,333.6 L1660.5,333.6 L1660.5,343.4 L1657.9,343.4 L1657.9,346.4 L1655.5,346.4 L1655.5,349.2 L1646.5,349.2 L1646.5,346.4 L1644.1,346.4 L1644.1,343.4 L1641.5,343.4 L1641.5,333.6 L1644.1,333.6 L1644.1,330.6 L1646.5,330.6Z" fill="#ED7D31"/><polyline points="1292.2,389.2 1363.0,386.5 1410.2,386.5 1436.2,384.0 1459.5,381.2 1483.0,376.0 1506.5,370.5 1530.5,365.0 1553.8,362.5 1580.0,360.0 1603.5,357.0 1627.3,354.5 1651.0,351.7" fill="none" stroke="#A5A5A5" stroke-opacity="0.45" stroke-width="7.5" stroke-linejoin="round"/><polyline points="1292.2,389.2 1363.0,386.5 1410.2,386.5 1436.2,384.0 1459.5,381.2 1483.0,376.0 1506.5,370.5 1530.5,365.0 1553.8,362.5 1580.0,360.0 1603.5,357.0 1627.3,354.5 1651.0,351.7" fill="none" stroke="#A5A5A5" stroke-width="3.4" stroke-linejoin="round"/><path d="M1287.7,377.9 L1296.7,377.9 L1296.7,380.8 L1299.1,380.8 L1299.1,383.8 L1301.7,383.8 L1301.7,393.6 L1299.1,393.6 L1299.1,396.6 L1296.7,396.6 L1296.7,399.4 L1287.7,399.4 L1287.7,396.6 L1285.3,396.6 L1285.3,393.6 L1282.8,393.6 L1282.8,383.8 L1285.3,383.8 L1285.3,380.8 L1287.7,380.8Z" fill="#A5A5A5"/><path d="M1358.5,375.2 L1367.5,375.2 L1367.5,378.1 L1369.9,378.1 L1369.9,381.1 L1372.5,381.1 L1372.5,390.9 L1369.9,390.9 L1369.9,393.9 L1367.5,393.9 L1367.5,396.8 L1358.5,396.8 L1358.5,393.9 L1356.1,393.9 L1356.1,390.9 L1353.5,390.9 L1353.5,381.1 L1356.1,381.1 L1356.1,378.1 L1358.5,378.1Z" fill="#A5A5A5"/><path d="M1405.7,375.2 L1414.7,375.2 L1414.7,378.1 L1417.1,378.1 L1417.1,381.1 L1419.7,381.1 L1419.7,390.9 L1417.1,390.9 L1417.1,393.9 L1414.7,393.9 L1414.7,396.8 L1405.7,396.8 L1405.7,393.9 L1403.3,393.9 L1403.3,390.9 L1400.8,390.9 L1400.8,381.1 L1403.3,381.1 L1403.3,378.1 L1405.7,378.1Z" fill="#A5A5A5"/><path d="M1431.7,372.8 L1440.7,372.8 L1440.7,375.6 L1443.1,375.6 L1443.1,378.6 L1445.7,378.6 L1445.7,388.4 L1443.1,388.4 L1443.1,391.4 L1440.7,391.4 L1440.7,394.2 L1431.7,394.2 L1431.7,391.4 L1429.3,391.4 L1429.3,388.4 L1426.8,388.4 L1426.8,378.6 L1429.3,378.6 L1429.3,375.6 L1431.7,375.6Z" fill="#A5A5A5"/><path d="M1455.0,369.9 L1464.0,369.9 L1464.0,372.8 L1466.4,372.8 L1466.4,375.8 L1469.0,375.8 L1469.0,385.6 L1466.4,385.6 L1466.4,388.6 L1464.0,388.6 L1464.0,391.4 L1455.0,391.4 L1455.0,388.6 L1452.6,388.6 L1452.6,385.6 L1450.0,385.6 L1450.0,375.8 L1452.6,375.8 L1452.6,372.8 L1455.0,372.8Z" fill="#A5A5A5"/><path d="M1478.5,364.8 L1487.5,364.8 L1487.5,367.6 L1489.9,367.6 L1489.9,370.6 L1492.5,370.6 L1492.5,380.4 L1489.9,380.4 L1489.9,383.4 L1487.5,383.4 L1487.5,386.2 L1478.5,386.2 L1478.5,383.4 L1476.1,383.4 L1476.1,380.4 L1473.5,380.4 L1473.5,370.6 L1476.1,370.6 L1476.1,367.6 L1478.5,367.6Z" fill="#A5A5A5"/><path d="M1502.0,359.2 L1511.0,359.2 L1511.0,362.1 L1513.4,362.1 L1513.4,365.1 L1516.0,365.1 L1516.0,374.9 L1513.4,374.9 L1513.4,377.9 L1511.0,377.9 L1511.0,380.8 L1502.0,380.8 L1502.0,377.9 L1499.6,377.9 L1499.6,374.9 L1497.0,374.9 L1497.0,365.1 L1499.6,365.1 L1499.6,362.1 L1502.0,362.1Z" fill="#A5A5A5"/><path d="M1526.0,353.8 L1535.0,353.8 L1535.0,356.6 L1537.4,356.6 L1537.4,359.6 L1540.0,359.6 L1540.0,369.4 L1537.4,369.4 L1537.4,372.4 L1535.0,372.4 L1535.0,375.2 L1526.0,375.2 L1526.0,372.4 L1523.6,372.4 L1523.6,369.4 L1521.0,369.4 L1521.0,359.6 L1523.6,359.6 L1523.6,356.6 L1526.0,356.6Z" fill="#A5A5A5"/><path d="M1549.3,351.2 L1558.3,351.2 L1558.3,354.1 L1560.7,354.1 L1560.7,357.1 L1563.2,357.1 L1563.2,366.9 L1560.7,366.9 L1560.7,369.9 L1558.3,369.9 L1558.3,372.8 L1549.3,372.8 L1549.3,369.9 L1546.9,369.9 L1546.9,366.9 L1544.3,366.9 L1544.3,357.1 L1546.9,357.1 L1546.9,354.1 L1549.3,354.1Z" fill="#A5A5A5"/><path d="M1575.5,348.8 L1584.5,348.8 L1584.5,351.6 L1586.9,351.6 L1586.9,354.6 L1589.5,354.6 L1589.5,364.4 L1586.9,364.4 L1586.9,367.4 L1584.5,367.4 L1584.5,370.2 L1575.5,370.2 L1575.5,367.4 L1573.1,367.4 L1573.1,364.4 L1570.5,364.4 L1570.5,354.6 L1573.1,354.6 L1573.1,351.6 L1575.5,351.6Z" fill="#A5A5A5"/><path d="M1599.0,345.8 L1608.0,345.8 L1608.0,348.6 L1610.4,348.6 L1610.4,351.6 L1613.0,351.6 L1613.0,361.4 L1610.4,361.4 L1610.4,364.4 L1608.0,364.4 L1608.0,367.2 L1599.0,367.2 L1599.0,364.4 L1596.6,364.4 L1596.6,361.4 L1594.0,361.4 L1594.0,351.6 L1596.6,351.6 L1596.6,348.6 L1599.0,348.6Z" fill="#A5A5A5"/><path d="M1622.8,343.2 L1631.8,343.2 L1631.8,346.1 L1634.2,346.1 L1634.2,349.1 L1636.8,349.1 L1636.8,358.9 L1634.2,358.9 L1634.2,361.9 L1631.8,361.9 L1631.8,364.8 L1622.8,364.8 L1622.8,361.9 L1620.4,361.9 L1620.4,358.9 L1617.8,358.9 L1617.8,349.1 L1620.4,349.1 L1620.4,346.1 L1622.8,346.1Z" fill="#A5A5A5"/><path d="M1646.5,340.4 L1655.5,340.4 L1655.5,343.3 L1657.9,343.3 L1657.9,346.3 L1660.5,346.3 L1660.5,356.1 L1657.9,356.1 L1657.9,359.1 L1655.5,359.1 L1655.5,361.9 L1646.5,361.9 L1646.5,359.1 L1644.1,359.1 L1644.1,356.1 L1641.5,356.1 L1641.5,346.3 L1644.1,346.3 L1644.1,343.3 L1646.5,343.3Z" fill="#A5A5A5"/><polyline points="1292.2,311.6 1363.0,311.6 1410.2,311.6 1436.2,314.4 1459.5,316.9 1483.0,319.8 1506.5,322.1 1530.5,324.6 1553.8,327.6 1580.0,330.4 1603.5,330.4 1627.3,335.5 1651.0,335.5" fill="none" stroke="#FFC000" stroke-opacity="0.45" stroke-width="7.5" stroke-linejoin="round"/><polyline points="1292.2,311.6 1363.0,311.6 1410.2,311.6 1436.2,314.4 1459.5,316.9 1483.0,319.8 1506.5,322.1 1530.5,324.6 1553.8,327.6 1580.0,330.4 1603.5,330.4 1627.3,335.5 1651.0,335.5" fill="none" stroke="#FFC000" stroke-width="3.4" stroke-linejoin="round"/><path d="M1287.7,300.4 L1296.7,300.4 L1296.7,303.2 L1299.1,303.2 L1299.1,306.2 L1301.7,306.2 L1301.7,316.0 L1299.1,316.0 L1299.1,319.0 L1296.7,319.0 L1296.7,321.9 L1287.7,321.9 L1287.7,319.0 L1285.3,319.0 L1285.3,316.0 L1282.8,316.0 L1282.8,306.2 L1285.3,306.2 L1285.3,303.2 L1287.7,303.2Z" fill="#FFC000"/><path d="M1358.5,300.4 L1367.5,300.4 L1367.5,303.2 L1369.9,303.2 L1369.9,306.2 L1372.5,306.2 L1372.5,316.0 L1369.9,316.0 L1369.9,319.0 L1367.5,319.0 L1367.5,321.9 L1358.5,321.9 L1358.5,319.0 L1356.1,319.0 L1356.1,316.0 L1353.5,316.0 L1353.5,306.2 L1356.1,306.2 L1356.1,303.2 L1358.5,303.2Z" fill="#FFC000"/><path d="M1405.7,300.4 L1414.7,300.4 L1414.7,303.2 L1417.1,303.2 L1417.1,306.2 L1419.7,306.2 L1419.7,316.0 L1417.1,316.0 L1417.1,319.0 L1414.7,319.0 L1414.7,321.9 L1405.7,321.9 L1405.7,319.0 L1403.3,319.0 L1403.3,316.0 L1400.8,316.0 L1400.8,306.2 L1403.3,306.2 L1403.3,303.2 L1405.7,303.2Z" fill="#FFC000"/><path d="M1431.7,303.1 L1440.7,303.1 L1440.7,306.0 L1443.1,306.0 L1443.1,309.0 L1445.7,309.0 L1445.7,318.8 L1443.1,318.8 L1443.1,321.8 L1440.7,321.8 L1440.7,324.6 L1431.7,324.6 L1431.7,321.8 L1429.3,321.8 L1429.3,318.8 L1426.8,318.8 L1426.8,309.0 L1429.3,309.0 L1429.3,306.0 L1431.7,306.0Z" fill="#FFC000"/><path d="M1455.0,305.6 L1464.0,305.6 L1464.0,308.5 L1466.4,308.5 L1466.4,311.5 L1469.0,311.5 L1469.0,321.3 L1466.4,321.3 L1466.4,324.3 L1464.0,324.3 L1464.0,327.1 L1455.0,327.1 L1455.0,324.3 L1452.6,324.3 L1452.6,321.3 L1450.0,321.3 L1450.0,311.5 L1452.6,311.5 L1452.6,308.5 L1455.0,308.5Z" fill="#FFC000"/><path d="M1478.5,308.6 L1487.5,308.6 L1487.5,311.4 L1489.9,311.4 L1489.9,314.4 L1492.5,314.4 L1492.5,324.2 L1489.9,324.2 L1489.9,327.2 L1487.5,327.2 L1487.5,330.1 L1478.5,330.1 L1478.5,327.2 L1476.1,327.2 L1476.1,324.2 L1473.5,324.2 L1473.5,314.4 L1476.1,314.4 L1476.1,311.4 L1478.5,311.4Z" fill="#FFC000"/><path d="M1502.0,310.9 L1511.0,310.9 L1511.0,313.7 L1513.4,313.7 L1513.4,316.7 L1516.0,316.7 L1516.0,326.5 L1513.4,326.5 L1513.4,329.5 L1511.0,329.5 L1511.0,332.4 L1502.0,332.4 L1502.0,329.5 L1499.6,329.5 L1499.6,326.5 L1497.0,326.5 L1497.0,316.7 L1499.6,316.7 L1499.6,313.7 L1502.0,313.7Z" fill="#FFC000"/><path d="M1526.0,313.4 L1535.0,313.4 L1535.0,316.2 L1537.4,316.2 L1537.4,319.2 L1540.0,319.2 L1540.0,329.0 L1537.4,329.0 L1537.4,332.0 L1535.0,332.0 L1535.0,334.9 L1526.0,334.9 L1526.0,332.0 L1523.6,332.0 L1523.6,329.0 L1521.0,329.0 L1521.0,319.2 L1523.6,319.2 L1523.6,316.2 L1526.0,316.2Z" fill="#FFC000"/><path d="M1549.3,316.4 L1558.3,316.4 L1558.3,319.2 L1560.7,319.2 L1560.7,322.2 L1563.2,322.2 L1563.2,332.0 L1560.7,332.0 L1560.7,335.0 L1558.3,335.0 L1558.3,337.9 L1549.3,337.9 L1549.3,335.0 L1546.9,335.0 L1546.9,332.0 L1544.3,332.0 L1544.3,322.2 L1546.9,322.2 L1546.9,319.2 L1549.3,319.2Z" fill="#FFC000"/><path d="M1575.5,319.1 L1584.5,319.1 L1584.5,322.0 L1586.9,322.0 L1586.9,325.0 L1589.5,325.0 L1589.5,334.8 L1586.9,334.8 L1586.9,337.8 L1584.5,337.8 L1584.5,340.6 L1575.5,340.6 L1575.5,337.8 L1573.1,337.8 L1573.1,334.8 L1570.5,334.8 L1570.5,325.0 L1573.1,325.0 L1573.1,322.0 L1575.5,322.0Z" fill="#FFC000"/><path d="M1599.0,319.1 L1608.0,319.1 L1608.0,322.0 L1610.4,322.0 L1610.4,325.0 L1613.0,325.0 L1613.0,334.8 L1610.4,334.8 L1610.4,337.8 L1608.0,337.8 L1608.0,340.6 L1599.0,340.6 L1599.0,337.8 L1596.6,337.8 L1596.6,334.8 L1594.0,334.8 L1594.0,325.0 L1596.6,325.0 L1596.6,322.0 L1599.0,322.0Z" fill="#FFC000"/><path d="M1622.8,324.2 L1631.8,324.2 L1631.8,327.1 L1634.2,327.1 L1634.2,330.1 L1636.8,330.1 L1636.8,339.9 L1634.2,339.9 L1634.2,342.9 L1631.8,342.9 L1631.8,345.8 L1622.8,345.8 L1622.8,342.9 L1620.4,342.9 L1620.4,339.9 L1617.8,339.9 L1617.8,330.1 L1620.4,330.1 L1620.4,327.1 L1622.8,327.1Z" fill="#FFC000"/><path d="M1646.5,324.2 L1655.5,324.2 L1655.5,327.1 L1657.9,327.1 L1657.9,330.1 L1660.5,330.1 L1660.5,339.9 L1657.9,339.9 L1657.9,342.9 L1655.5,342.9 L1655.5,345.8 L1646.5,345.8 L1646.5,342.9 L1644.1,342.9 L1644.1,339.9 L1641.5,339.9 L1641.5,330.1 L1644.1,330.1 L1644.1,327.1 L1646.5,327.1Z" fill="#FFC000"/><polyline points="1292.2,276.3 1363.0,276.3 1410.2,276.3 1436.2,272.0 1459.5,266.2 1483.0,260.2 1506.5,255.2 1530.5,247.2 1553.8,244.2 1580.0,241.7 1603.5,239.2 1627.3,236.7 1651.0,234.2" fill="none" stroke="#4472C4" stroke-opacity="0.45" stroke-width="7.5" stroke-linejoin="round"/><polyline points="1292.2,276.3 1363.0,276.3 1410.2,276.3 1436.2,272.0 1459.5,266.2 1483.0,260.2 1506.5,255.2 1530.5,247.2 1553.8,244.2 1580.0,241.7 1603.5,239.2 1627.3,236.7 1651.0,234.2" fill="none" stroke="#4472C4" stroke-width="3.4" stroke-linejoin="round"/><path d="M1287.7,265.1 L1296.7,265.1 L1296.7,267.9 L1299.1,267.9 L1299.1,270.9 L1301.7,270.9 L1301.7,280.7 L1299.1,280.7 L1299.1,283.7 L1296.7,283.7 L1296.7,286.6 L1287.7,286.6 L1287.7,283.7 L1285.3,283.7 L1285.3,280.7 L1282.8,280.7 L1282.8,270.9 L1285.3,270.9 L1285.3,267.9 L1287.7,267.9Z" fill="#4472C4"/><path d="M1358.5,265.1 L1367.5,265.1 L1367.5,267.9 L1369.9,267.9 L1369.9,270.9 L1372.5,270.9 L1372.5,280.7 L1369.9,280.7 L1369.9,283.7 L1367.5,283.7 L1367.5,286.6 L1358.5,286.6 L1358.5,283.7 L1356.1,283.7 L1356.1,280.7 L1353.5,280.7 L1353.5,270.9 L1356.1,270.9 L1356.1,267.9 L1358.5,267.9Z" fill="#4472C4"/><path d="M1405.7,265.1 L1414.7,265.1 L1414.7,267.9 L1417.1,267.9 L1417.1,270.9 L1419.7,270.9 L1419.7,280.7 L1417.1,280.7 L1417.1,283.7 L1414.7,283.7 L1414.7,286.6 L1405.7,286.6 L1405.7,283.7 L1403.3,283.7 L1403.3,280.7 L1400.8,280.7 L1400.8,270.9 L1403.3,270.9 L1403.3,267.9 L1405.7,267.9Z" fill="#4472C4"/><path d="M1431.7,260.8 L1440.7,260.8 L1440.7,263.6 L1443.1,263.6 L1443.1,266.6 L1445.7,266.6 L1445.7,276.4 L1443.1,276.4 L1443.1,279.4 L1440.7,279.4 L1440.7,282.2 L1431.7,282.2 L1431.7,279.4 L1429.3,279.4 L1429.3,276.4 L1426.8,276.4 L1426.8,266.6 L1429.3,266.6 L1429.3,263.6 L1431.7,263.6Z" fill="#4472C4"/><path d="M1455.0,254.9 L1464.0,254.9 L1464.0,257.8 L1466.4,257.8 L1466.4,260.8 L1469.0,260.8 L1469.0,270.6 L1466.4,270.6 L1466.4,273.6 L1464.0,273.6 L1464.0,276.4 L1455.0,276.4 L1455.0,273.6 L1452.6,273.6 L1452.6,270.6 L1450.0,270.6 L1450.0,260.8 L1452.6,260.8 L1452.6,257.8 L1455.0,257.8Z" fill="#4472C4"/><path d="M1478.5,248.9 L1487.5,248.9 L1487.5,251.8 L1489.9,251.8 L1489.9,254.8 L1492.5,254.8 L1492.5,264.6 L1489.9,264.6 L1489.9,267.6 L1487.5,267.6 L1487.5,270.4 L1478.5,270.4 L1478.5,267.6 L1476.1,267.6 L1476.1,264.6 L1473.5,264.6 L1473.5,254.8 L1476.1,254.8 L1476.1,251.8 L1478.5,251.8Z" fill="#4472C4"/><path d="M1502.0,243.9 L1511.0,243.9 L1511.0,246.8 L1513.4,246.8 L1513.4,249.8 L1516.0,249.8 L1516.0,259.6 L1513.4,259.6 L1513.4,262.6 L1511.0,262.6 L1511.0,265.4 L1502.0,265.4 L1502.0,262.6 L1499.6,262.6 L1499.6,259.6 L1497.0,259.6 L1497.0,249.8 L1499.6,249.8 L1499.6,246.8 L1502.0,246.8Z" fill="#4472C4"/><path d="M1526.0,235.9 L1535.0,235.9 L1535.0,238.8 L1537.4,238.8 L1537.4,241.8 L1540.0,241.8 L1540.0,251.6 L1537.4,251.6 L1537.4,254.6 L1535.0,254.6 L1535.0,257.4 L1526.0,257.4 L1526.0,254.6 L1523.6,254.6 L1523.6,251.6 L1521.0,251.6 L1521.0,241.8 L1523.6,241.8 L1523.6,238.8 L1526.0,238.8Z" fill="#4472C4"/><path d="M1549.3,232.9 L1558.3,232.9 L1558.3,235.8 L1560.7,235.8 L1560.7,238.8 L1563.2,238.8 L1563.2,248.6 L1560.7,248.6 L1560.7,251.6 L1558.3,251.6 L1558.3,254.4 L1549.3,254.4 L1549.3,251.6 L1546.9,251.6 L1546.9,248.6 L1544.3,248.6 L1544.3,238.8 L1546.9,238.8 L1546.9,235.8 L1549.3,235.8Z" fill="#4472C4"/><path d="M1575.5,230.4 L1584.5,230.4 L1584.5,233.3 L1586.9,233.3 L1586.9,236.3 L1589.5,236.3 L1589.5,246.1 L1586.9,246.1 L1586.9,249.1 L1584.5,249.1 L1584.5,251.9 L1575.5,251.9 L1575.5,249.1 L1573.1,249.1 L1573.1,246.1 L1570.5,246.1 L1570.5,236.3 L1573.1,236.3 L1573.1,233.3 L1575.5,233.3Z" fill="#4472C4"/><path d="M1599.0,227.9 L1608.0,227.9 L1608.0,230.8 L1610.4,230.8 L1610.4,233.8 L1613.0,233.8 L1613.0,243.6 L1610.4,243.6 L1610.4,246.6 L1608.0,246.6 L1608.0,249.4 L1599.0,249.4 L1599.0,246.6 L1596.6,246.6 L1596.6,243.6 L1594.0,243.6 L1594.0,233.8 L1596.6,233.8 L1596.6,230.8 L1599.0,230.8Z" fill="#4472C4"/><path d="M1622.8,225.4 L1631.8,225.4 L1631.8,228.3 L1634.2,228.3 L1634.2,231.3 L1636.8,231.3 L1636.8,241.1 L1634.2,241.1 L1634.2,244.1 L1631.8,244.1 L1631.8,246.9 L1622.8,246.9 L1622.8,244.1 L1620.4,244.1 L1620.4,241.1 L1617.8,241.1 L1617.8,231.3 L1620.4,231.3 L1620.4,228.3 L1622.8,228.3Z" fill="#4472C4"/><path d="M1646.5,222.9 L1655.5,222.9 L1655.5,225.8 L1657.9,225.8 L1657.9,228.8 L1660.5,228.8 L1660.5,238.6 L1657.9,238.6 L1657.9,241.6 L1655.5,241.6 L1655.5,244.4 L1646.5,244.4 L1646.5,241.6 L1644.1,241.6 L1644.1,238.6 L1641.5,238.6 L1641.5,228.8 L1644.1,228.8 L1644.1,225.8 L1646.5,225.8Z" fill="#4472C4"/><polyline points="1292.2,274.0 1363.0,274.0 1410.2,274.0 1436.2,271.5 1459.5,268.5 1483.0,263.2 1506.5,260.5 1530.5,257.5 1553.8,257.5 1580.0,255.0 1603.5,255.0 1627.3,252.5 1651.0,252.5" fill="none" stroke="#70AD47" stroke-opacity="0.45" stroke-width="7.5" stroke-linejoin="round"/><polyline points="1292.2,274.0 1363.0,274.0 1410.2,274.0 1436.2,271.5 1459.5,268.5 1483.0,263.2 1506.5,260.5 1530.5,257.5 1553.8,257.5 1580.0,255.0 1603.5,255.0 1627.3,252.5 1651.0,252.5" fill="none" stroke="#70AD47" stroke-width="3.4" stroke-linejoin="round"/><path d="M1287.7,262.8 L1296.7,262.8 L1296.7,265.6 L1299.1,265.6 L1299.1,268.6 L1301.7,268.6 L1301.7,278.4 L1299.1,278.4 L1299.1,281.4 L1296.7,281.4 L1296.7,284.2 L1287.7,284.2 L1287.7,281.4 L1285.3,281.4 L1285.3,278.4 L1282.8,278.4 L1282.8,268.6 L1285.3,268.6 L1285.3,265.6 L1287.7,265.6Z" fill="#70AD47"/><path d="M1358.5,262.8 L1367.5,262.8 L1367.5,265.6 L1369.9,265.6 L1369.9,268.6 L1372.5,268.6 L1372.5,278.4 L1369.9,278.4 L1369.9,281.4 L1367.5,281.4 L1367.5,284.2 L1358.5,284.2 L1358.5,281.4 L1356.1,281.4 L1356.1,278.4 L1353.5,278.4 L1353.5,268.6 L1356.1,268.6 L1356.1,265.6 L1358.5,265.6Z" fill="#70AD47"/><path d="M1405.7,262.8 L1414.7,262.8 L1414.7,265.6 L1417.1,265.6 L1417.1,268.6 L1419.7,268.6 L1419.7,278.4 L1417.1,278.4 L1417.1,281.4 L1414.7,281.4 L1414.7,284.2 L1405.7,284.2 L1405.7,281.4 L1403.3,281.4 L1403.3,278.4 L1400.8,278.4 L1400.8,268.6 L1403.3,268.6 L1403.3,265.6 L1405.7,265.6Z" fill="#70AD47"/><path d="M1431.7,260.2 L1440.7,260.2 L1440.7,263.1 L1443.1,263.1 L1443.1,266.1 L1445.7,266.1 L1445.7,275.9 L1443.1,275.9 L1443.1,278.9 L1440.7,278.9 L1440.7,281.8 L1431.7,281.8 L1431.7,278.9 L1429.3,278.9 L1429.3,275.9 L1426.8,275.9 L1426.8,266.1 L1429.3,266.1 L1429.3,263.1 L1431.7,263.1Z" fill="#70AD47"/><path d="M1455.0,257.2 L1464.0,257.2 L1464.0,260.1 L1466.4,260.1 L1466.4,263.1 L1469.0,263.1 L1469.0,272.9 L1466.4,272.9 L1466.4,275.9 L1464.0,275.9 L1464.0,278.8 L1455.0,278.8 L1455.0,275.9 L1452.6,275.9 L1452.6,272.9 L1450.0,272.9 L1450.0,263.1 L1452.6,263.1 L1452.6,260.1 L1455.0,260.1Z" fill="#70AD47"/><path d="M1478.5,251.9 L1487.5,251.9 L1487.5,254.8 L1489.9,254.8 L1489.9,257.8 L1492.5,257.8 L1492.5,267.6 L1489.9,267.6 L1489.9,270.6 L1487.5,270.6 L1487.5,273.4 L1478.5,273.4 L1478.5,270.6 L1476.1,270.6 L1476.1,267.6 L1473.5,267.6 L1473.5,257.8 L1476.1,257.8 L1476.1,254.8 L1478.5,254.8Z" fill="#70AD47"/><path d="M1502.0,249.2 L1511.0,249.2 L1511.0,252.1 L1513.4,252.1 L1513.4,255.1 L1516.0,255.1 L1516.0,264.9 L1513.4,264.9 L1513.4,267.9 L1511.0,267.9 L1511.0,270.8 L1502.0,270.8 L1502.0,267.9 L1499.6,267.9 L1499.6,264.9 L1497.0,264.9 L1497.0,255.1 L1499.6,255.1 L1499.6,252.1 L1502.0,252.1Z" fill="#70AD47"/><path d="M1526.0,246.2 L1535.0,246.2 L1535.0,249.1 L1537.4,249.1 L1537.4,252.1 L1540.0,252.1 L1540.0,261.9 L1537.4,261.9 L1537.4,264.9 L1535.0,264.9 L1535.0,267.8 L1526.0,267.8 L1526.0,264.9 L1523.6,264.9 L1523.6,261.9 L1521.0,261.9 L1521.0,252.1 L1523.6,252.1 L1523.6,249.1 L1526.0,249.1Z" fill="#70AD47"/><path d="M1549.3,246.2 L1558.3,246.2 L1558.3,249.1 L1560.7,249.1 L1560.7,252.1 L1563.2,252.1 L1563.2,261.9 L1560.7,261.9 L1560.7,264.9 L1558.3,264.9 L1558.3,267.8 L1549.3,267.8 L1549.3,264.9 L1546.9,264.9 L1546.9,261.9 L1544.3,261.9 L1544.3,252.1 L1546.9,252.1 L1546.9,249.1 L1549.3,249.1Z" fill="#70AD47"/><path d="M1575.5,243.8 L1584.5,243.8 L1584.5,246.6 L1586.9,246.6 L1586.9,249.6 L1589.5,249.6 L1589.5,259.4 L1586.9,259.4 L1586.9,262.4 L1584.5,262.4 L1584.5,265.2 L1575.5,265.2 L1575.5,262.4 L1573.1,262.4 L1573.1,259.4 L1570.5,259.4 L1570.5,249.6 L1573.1,249.6 L1573.1,246.6 L1575.5,246.6Z" fill="#70AD47"/><path d="M1599.0,243.8 L1608.0,243.8 L1608.0,246.6 L1610.4,246.6 L1610.4,249.6 L1613.0,249.6 L1613.0,259.4 L1610.4,259.4 L1610.4,262.4 L1608.0,262.4 L1608.0,265.2 L1599.0,265.2 L1599.0,262.4 L1596.6,262.4 L1596.6,259.4 L1594.0,259.4 L1594.0,249.6 L1596.6,249.6 L1596.6,246.6 L1599.0,246.6Z" fill="#70AD47"/><path d="M1622.8,241.2 L1631.8,241.2 L1631.8,244.1 L1634.2,244.1 L1634.2,247.1 L1636.8,247.1 L1636.8,256.9 L1634.2,256.9 L1634.2,259.9 L1631.8,259.9 L1631.8,262.8 L1622.8,262.8 L1622.8,259.9 L1620.4,259.9 L1620.4,256.9 L1617.8,256.9 L1617.8,247.1 L1620.4,247.1 L1620.4,244.1 L1622.8,244.1Z" fill="#70AD47"/><path d="M1646.5,241.2 L1655.5,241.2 L1655.5,244.1 L1657.9,244.1 L1657.9,247.1 L1660.5,247.1 L1660.5,256.9 L1657.9,256.9 L1657.9,259.9 L1655.5,259.9 L1655.5,262.8 L1646.5,262.8 L1646.5,259.9 L1644.1,259.9 L1644.1,256.9 L1641.5,256.9 L1641.5,247.1 L1644.1,247.1 L1644.1,244.1 L1646.5,244.1Z" fill="#70AD47"/><polyline points="1292.2,212.3 1363.0,209.3 1410.2,206.9 1436.2,201.6 1459.5,190.9 1483.0,180.2 1506.5,174.9 1530.5,169.5 1553.8,158.8 1580.0,161.7 1603.5,158.8 1627.3,155.9 1651.0,154.0" fill="none" stroke="#255E91" stroke-opacity="0.45" stroke-width="7.5" stroke-linejoin="round"/><polyline points="1292.2,212.3 1363.0,209.3 1410.2,206.9 1436.2,201.6 1459.5,190.9 1483.0,180.2 1506.5,174.9 1530.5,169.5 1553.8,158.8 1580.0,161.7 1603.5,158.8 1627.3,155.9 1651.0,154.0" fill="none" stroke="#255E91" stroke-width="3.4" stroke-linejoin="round"/><path d="M1287.7,201.1 L1296.7,201.1 L1296.7,203.9 L1299.1,203.9 L1299.1,206.9 L1301.7,206.9 L1301.7,216.7 L1299.1,216.7 L1299.1,219.7 L1296.7,219.7 L1296.7,222.6 L1287.7,222.6 L1287.7,219.7 L1285.3,219.7 L1285.3,216.7 L1282.8,216.7 L1282.8,206.9 L1285.3,206.9 L1285.3,203.9 L1287.7,203.9Z" fill="#255E91"/><path d="M1358.5,198.1 L1367.5,198.1 L1367.5,200.9 L1369.9,200.9 L1369.9,203.9 L1372.5,203.9 L1372.5,213.7 L1369.9,213.7 L1369.9,216.7 L1367.5,216.7 L1367.5,219.6 L1358.5,219.6 L1358.5,216.7 L1356.1,216.7 L1356.1,213.7 L1353.5,213.7 L1353.5,203.9 L1356.1,203.9 L1356.1,200.9 L1358.5,200.9Z" fill="#255E91"/><path d="M1405.7,195.7 L1414.7,195.7 L1414.7,198.5 L1417.1,198.5 L1417.1,201.5 L1419.7,201.5 L1419.7,211.3 L1417.1,211.3 L1417.1,214.3 L1414.7,214.3 L1414.7,217.2 L1405.7,217.2 L1405.7,214.3 L1403.3,214.3 L1403.3,211.3 L1400.8,211.3 L1400.8,201.5 L1403.3,201.5 L1403.3,198.5 L1405.7,198.5Z" fill="#255E91"/><path d="M1431.7,190.3 L1440.7,190.3 L1440.7,193.2 L1443.1,193.2 L1443.1,196.2 L1445.7,196.2 L1445.7,206.0 L1443.1,206.0 L1443.1,209.0 L1440.7,209.0 L1440.7,211.8 L1431.7,211.8 L1431.7,209.0 L1429.3,209.0 L1429.3,206.0 L1426.8,206.0 L1426.8,196.2 L1429.3,196.2 L1429.3,193.2 L1431.7,193.2Z" fill="#255E91"/><path d="M1455.0,179.7 L1464.0,179.7 L1464.0,182.5 L1466.4,182.5 L1466.4,185.5 L1469.0,185.5 L1469.0,195.3 L1466.4,195.3 L1466.4,198.3 L1464.0,198.3 L1464.0,201.2 L1455.0,201.2 L1455.0,198.3 L1452.6,198.3 L1452.6,195.3 L1450.0,195.3 L1450.0,185.5 L1452.6,185.5 L1452.6,182.5 L1455.0,182.5Z" fill="#255E91"/><path d="M1478.5,168.9 L1487.5,168.9 L1487.5,171.8 L1489.9,171.8 L1489.9,174.8 L1492.5,174.8 L1492.5,184.6 L1489.9,184.6 L1489.9,187.6 L1487.5,187.6 L1487.5,190.4 L1478.5,190.4 L1478.5,187.6 L1476.1,187.6 L1476.1,184.6 L1473.5,184.6 L1473.5,174.8 L1476.1,174.8 L1476.1,171.8 L1478.5,171.8Z" fill="#255E91"/><path d="M1502.0,163.7 L1511.0,163.7 L1511.0,166.5 L1513.4,166.5 L1513.4,169.5 L1516.0,169.5 L1516.0,179.3 L1513.4,179.3 L1513.4,182.3 L1511.0,182.3 L1511.0,185.2 L1502.0,185.2 L1502.0,182.3 L1499.6,182.3 L1499.6,179.3 L1497.0,179.3 L1497.0,169.5 L1499.6,169.5 L1499.6,166.5 L1502.0,166.5Z" fill="#255E91"/><path d="M1526.0,158.2 L1535.0,158.2 L1535.0,161.1 L1537.4,161.1 L1537.4,164.1 L1540.0,164.1 L1540.0,173.9 L1537.4,173.9 L1537.4,176.9 L1535.0,176.9 L1535.0,179.8 L1526.0,179.8 L1526.0,176.9 L1523.6,176.9 L1523.6,173.9 L1521.0,173.9 L1521.0,164.1 L1523.6,164.1 L1523.6,161.1 L1526.0,161.1Z" fill="#255E91"/><path d="M1549.3,147.6 L1558.3,147.6 L1558.3,150.4 L1560.7,150.4 L1560.7,153.4 L1563.2,153.4 L1563.2,163.2 L1560.7,163.2 L1560.7,166.2 L1558.3,166.2 L1558.3,169.1 L1549.3,169.1 L1549.3,166.2 L1546.9,166.2 L1546.9,163.2 L1544.3,163.2 L1544.3,153.4 L1546.9,153.4 L1546.9,150.4 L1549.3,150.4Z" fill="#255E91"/><path d="M1575.5,150.4 L1584.5,150.4 L1584.5,153.3 L1586.9,153.3 L1586.9,156.3 L1589.5,156.3 L1589.5,166.1 L1586.9,166.1 L1586.9,169.1 L1584.5,169.1 L1584.5,171.9 L1575.5,171.9 L1575.5,169.1 L1573.1,169.1 L1573.1,166.1 L1570.5,166.1 L1570.5,156.3 L1573.1,156.3 L1573.1,153.3 L1575.5,153.3Z" fill="#255E91"/><path d="M1599.0,147.6 L1608.0,147.6 L1608.0,150.4 L1610.4,150.4 L1610.4,153.4 L1613.0,153.4 L1613.0,163.2 L1610.4,163.2 L1610.4,166.2 L1608.0,166.2 L1608.0,169.1 L1599.0,169.1 L1599.0,166.2 L1596.6,166.2 L1596.6,163.2 L1594.0,163.2 L1594.0,153.4 L1596.6,153.4 L1596.6,150.4 L1599.0,150.4Z" fill="#255E91"/><path d="M1622.8,144.7 L1631.8,144.7 L1631.8,147.5 L1634.2,147.5 L1634.2,150.5 L1636.8,150.5 L1636.8,160.3 L1634.2,160.3 L1634.2,163.3 L1631.8,163.3 L1631.8,166.2 L1622.8,166.2 L1622.8,163.3 L1620.4,163.3 L1620.4,160.3 L1617.8,160.3 L1617.8,150.5 L1620.4,150.5 L1620.4,147.5 L1622.8,147.5Z" fill="#255E91"/><path d="M1646.5,142.8 L1655.5,142.8 L1655.5,145.6 L1657.9,145.6 L1657.9,148.6 L1660.5,148.6 L1660.5,158.4 L1657.9,158.4 L1657.9,161.4 L1655.5,161.4 L1655.5,164.2 L1646.5,164.2 L1646.5,161.4 L1644.1,161.4 L1644.1,158.4 L1641.5,158.4 L1641.5,148.6 L1644.1,148.6 L1644.1,145.6 L1646.5,145.6Z" fill="#255E91"/><polyline points="1292.2,148.0 1363.0,148.0 1410.2,150.5 1436.2,150.5 1459.5,143.0 1483.0,131.8 1506.5,121.1 1530.5,110.3 1553.8,105.2 1580.0,99.4 1603.5,102.5 1627.3,102.5 1651.0,99.4" fill="none" stroke="#9E480E" stroke-opacity="0.45" stroke-width="7.5" stroke-linejoin="round"/><polyline points="1292.2,148.0 1363.0,148.0 1410.2,150.5 1436.2,150.5 1459.5,143.0 1483.0,131.8 1506.5,121.1 1530.5,110.3 1553.8,105.2 1580.0,99.4 1603.5,102.5 1627.3,102.5 1651.0,99.4" fill="none" stroke="#9E480E" stroke-width="3.4" stroke-linejoin="round"/><path d="M1287.7,136.8 L1296.7,136.8 L1296.7,139.6 L1299.1,139.6 L1299.1,142.6 L1301.7,142.6 L1301.7,152.4 L1299.1,152.4 L1299.1,155.4 L1296.7,155.4 L1296.7,158.2 L1287.7,158.2 L1287.7,155.4 L1285.3,155.4 L1285.3,152.4 L1282.8,152.4 L1282.8,142.6 L1285.3,142.6 L1285.3,139.6 L1287.7,139.6Z" fill="#9E480E"/><path d="M1358.5,136.8 L1367.5,136.8 L1367.5,139.6 L1369.9,139.6 L1369.9,142.6 L1372.5,142.6 L1372.5,152.4 L1369.9,152.4 L1369.9,155.4 L1367.5,155.4 L1367.5,158.2 L1358.5,158.2 L1358.5,155.4 L1356.1,155.4 L1356.1,152.4 L1353.5,152.4 L1353.5,142.6 L1356.1,142.6 L1356.1,139.6 L1358.5,139.6Z" fill="#9E480E"/><path d="M1405.7,139.2 L1414.7,139.2 L1414.7,142.1 L1417.1,142.1 L1417.1,145.1 L1419.7,145.1 L1419.7,154.9 L1417.1,154.9 L1417.1,157.9 L1414.7,157.9 L1414.7,160.8 L1405.7,160.8 L1405.7,157.9 L1403.3,157.9 L1403.3,154.9 L1400.8,154.9 L1400.8,145.1 L1403.3,145.1 L1403.3,142.1 L1405.7,142.1Z" fill="#9E480E"/><path d="M1431.7,139.2 L1440.7,139.2 L1440.7,142.1 L1443.1,142.1 L1443.1,145.1 L1445.7,145.1 L1445.7,154.9 L1443.1,154.9 L1443.1,157.9 L1440.7,157.9 L1440.7,160.8 L1431.7,160.8 L1431.7,157.9 L1429.3,157.9 L1429.3,154.9 L1426.8,154.9 L1426.8,145.1 L1429.3,145.1 L1429.3,142.1 L1431.7,142.1Z" fill="#9E480E"/><path d="M1455.0,131.8 L1464.0,131.8 L1464.0,134.6 L1466.4,134.6 L1466.4,137.6 L1469.0,137.6 L1469.0,147.4 L1466.4,147.4 L1466.4,150.4 L1464.0,150.4 L1464.0,153.2 L1455.0,153.2 L1455.0,150.4 L1452.6,150.4 L1452.6,147.4 L1450.0,147.4 L1450.0,137.6 L1452.6,137.6 L1452.6,134.6 L1455.0,134.6Z" fill="#9E480E"/><path d="M1478.5,120.6 L1487.5,120.6 L1487.5,123.4 L1489.9,123.4 L1489.9,126.4 L1492.5,126.4 L1492.5,136.2 L1489.9,136.2 L1489.9,139.2 L1487.5,139.2 L1487.5,142.1 L1478.5,142.1 L1478.5,139.2 L1476.1,139.2 L1476.1,136.2 L1473.5,136.2 L1473.5,126.4 L1476.1,126.4 L1476.1,123.4 L1478.5,123.4Z" fill="#9E480E"/><path d="M1502.0,109.8 L1511.0,109.8 L1511.0,112.7 L1513.4,112.7 L1513.4,115.7 L1516.0,115.7 L1516.0,125.5 L1513.4,125.5 L1513.4,128.5 L1511.0,128.5 L1511.0,131.3 L1502.0,131.3 L1502.0,128.5 L1499.6,128.5 L1499.6,125.5 L1497.0,125.5 L1497.0,115.7 L1499.6,115.7 L1499.6,112.7 L1502.0,112.7Z" fill="#9E480E"/><path d="M1526.0,99.0 L1535.0,99.0 L1535.0,101.9 L1537.4,101.9 L1537.4,104.9 L1540.0,104.9 L1540.0,114.7 L1537.4,114.7 L1537.4,117.7 L1535.0,117.7 L1535.0,120.5 L1526.0,120.5 L1526.0,117.7 L1523.6,117.7 L1523.6,114.7 L1521.0,114.7 L1521.0,104.9 L1523.6,104.9 L1523.6,101.9 L1526.0,101.9Z" fill="#9E480E"/><path d="M1549.3,94.0 L1558.3,94.0 L1558.3,96.8 L1560.7,96.8 L1560.7,99.8 L1563.2,99.8 L1563.2,109.6 L1560.7,109.6 L1560.7,112.6 L1558.3,112.6 L1558.3,115.5 L1549.3,115.5 L1549.3,112.6 L1546.9,112.6 L1546.9,109.6 L1544.3,109.6 L1544.3,99.8 L1546.9,99.8 L1546.9,96.8 L1549.3,96.8Z" fill="#9E480E"/><path d="M1575.5,88.2 L1584.5,88.2 L1584.5,91.0 L1586.9,91.0 L1586.9,94.0 L1589.5,94.0 L1589.5,103.8 L1586.9,103.8 L1586.9,106.8 L1584.5,106.8 L1584.5,109.7 L1575.5,109.7 L1575.5,106.8 L1573.1,106.8 L1573.1,103.8 L1570.5,103.8 L1570.5,94.0 L1573.1,94.0 L1573.1,91.0 L1575.5,91.0Z" fill="#9E480E"/><path d="M1599.0,91.2 L1608.0,91.2 L1608.0,94.1 L1610.4,94.1 L1610.4,97.1 L1613.0,97.1 L1613.0,106.9 L1610.4,106.9 L1610.4,109.9 L1608.0,109.9 L1608.0,112.8 L1599.0,112.8 L1599.0,109.9 L1596.6,109.9 L1596.6,106.9 L1594.0,106.9 L1594.0,97.1 L1596.6,97.1 L1596.6,94.1 L1599.0,94.1Z" fill="#9E480E"/><path d="M1622.8,91.2 L1631.8,91.2 L1631.8,94.1 L1634.2,94.1 L1634.2,97.1 L1636.8,97.1 L1636.8,106.9 L1634.2,106.9 L1634.2,109.9 L1631.8,109.9 L1631.8,112.8 L1622.8,112.8 L1622.8,109.9 L1620.4,109.9 L1620.4,106.9 L1617.8,106.9 L1617.8,97.1 L1620.4,97.1 L1620.4,94.1 L1622.8,94.1Z" fill="#9E480E"/><path d="M1646.5,88.2 L1655.5,88.2 L1655.5,91.0 L1657.9,91.0 L1657.9,94.0 L1660.5,94.0 L1660.5,103.8 L1657.9,103.8 L1657.9,106.8 L1655.5,106.8 L1655.5,109.7 L1646.5,109.7 L1646.5,106.8 L1644.1,106.8 L1644.1,103.8 L1641.5,103.8 L1641.5,94.0 L1644.1,94.0 L1644.1,91.0 L1646.5,91.0Z" fill="#9E480E"/><text font-family="DejaVu Sans,Liberation Sans,sans-serif" font-size="32" fill="#000" transform="translate(22.2,266.5) rotate(-90) scale(1.26,1)">&#949;</text><path d="M12.8,237.8 H29.5" stroke="#808080" stroke-width="4.2" fill="none"/><path d="M30.3,230 V245" stroke="#000" stroke-width="2.6" fill="none"/><text font-family="DejaVu Sans,Liberation Sans,sans-serif" font-size="32" fill="#000" transform="translate(997.6,254.6) rotate(-90) scale(1.26,1)">&#949;</text><path d="M990.3,218.8 H1007.2 M990.3,226.9 H1007.2" stroke="#222" stroke-width="3" fill="none"/><path d="M990.3,221.2 H1007.2 M990.3,229.3 H1007.2" stroke="#ccc" stroke-width="1.6" fill="none"/><path d="M29,594.0 H108.5" stroke="#ED7D31" stroke-opacity="0.45" stroke-width="7.5"/><path d="M29,593.4 H107" stroke="#ED7D31" stroke-width="3"/><rect x="62.9" y="589.4" width="13.6" height="11.2" fill="#ED7D31"/><rect x="64.7" y="587.0" width="10.0" height="16.0" fill="#ED7D31"/><rect x="66.7" y="585.4" width="6.0" height="19.2" fill="#ED7D31" fill-opacity="0.35"/><text class="lg" x="114.2" y="605.5" textLength="90.5" lengthAdjust="spacingAndGlyphs">PVA,LC</text><path d="M29,637.9 H108.5" stroke="#A5A5A5" stroke-opacity="0.45" stroke-width="7.5"/><path d="M29,637.3 H107" stroke="#A5A5A5" stroke-width="3"/><rect x="62.9" y="633.3" width="13.6" height="11.2" fill="#A5A5A5"/><rect x="64.7" y="630.9" width="10.0" height="16.0" fill="#A5A5A5"/><rect x="66.7" y="629.3" width="6.0" height="19.2" fill="#A5A5A5" fill-opacity="0.35"/><text class="lg" x="114.5" y="646.6" textLength="304.9" lengthAdjust="spacingAndGlyphs">LC+0.1 Wt%BiFeO3,PVA</text><path d="M29,679.4 H108.5" stroke="#4472C4" stroke-opacity="0.45" stroke-width="7.5"/><path d="M29,678.8 H107" stroke="#4472C4" stroke-width="3"/><rect x="62.9" y="674.9" width="13.6" height="11.2" fill="#4472C4"/><rect x="64.7" y="672.5" width="10.0" height="16.0" fill="#4472C4"/><rect x="66.7" y="670.9" width="6.0" height="19.2" fill="#4472C4" fill-opacity="0.35"/><text class="lg" x="114.5" y="690.0" textLength="304.9" lengthAdjust="spacingAndGlyphs">LC+0.2 Wt%BiFeO3,PVA</text><path d="M29,723.6 H108.5" stroke="#255E91" stroke-opacity="0.45" stroke-width="7.5"/><path d="M29,723.0 H107" stroke="#255E91" stroke-width="3"/><rect x="62.9" y="718.7" width="13.6" height="11.2" fill="#255E91"/><rect x="64.7" y="716.3" width="10.0" height="16.0" fill="#255E91"/><rect x="66.7" y="714.7" width="6.0" height="19.2" fill="#255E91" fill-opacity="0.35"/><text class="lg" x="114.5" y="731.5" textLength="304.9" lengthAdjust="spacingAndGlyphs">LC+0.4 Wt%BiFeO3,PVA</text><path d="M501.7,594.0 H581.5" stroke="#5B9BD5" stroke-opacity="0.45" stroke-width="7.5"/><path d="M501.7,593.4 H580" stroke="#5B9BD5" stroke-width="3"/><rect x="535.4" y="589.4" width="13.6" height="11.2" fill="#5B9BD5"/><rect x="537.2" y="587.0" width="10.0" height="16.0" fill="#5B9BD5"/><rect x="539.2" y="585.4" width="6.0" height="19.2" fill="#5B9BD5" fill-opacity="0.35"/><text class="lg" x="585.6" y="605.5" textLength="318.9" lengthAdjust="spacingAndGlyphs">LC+0.05 Wt%BiFeO3,PVA</text><path d="M501.7,637.9 H581.5" stroke="#FFC000" stroke-opacity="0.45" stroke-width="7.5"/><path d="M501.7,637.3 H580" stroke="#FFC000" stroke-width="3"/><rect x="535.4" y="633.3" width="13.6" height="11.2" fill="#FFC000"/><rect x="537.2" y="630.9" width="10.0" height="16.0" fill="#FFC000"/><rect x="539.2" y="629.3" width="6.0" height="19.2" fill="#FFC000" fill-opacity="0.35"/><text class="lg" x="585.6" y="646.7" textLength="318.9" lengthAdjust="spacingAndGlyphs">LC+0.15 Wt%BiFeO3,PVA</text><path d="M501.7,679.4 H581.5" stroke="#70AD47" stroke-opacity="0.45" stroke-width="7.5"/><path d="M501.7,678.8 H580" stroke="#70AD47" stroke-width="3"/><rect x="535.4" y="674.9" width="13.6" height="11.2" fill="#70AD47"/><rect x="537.2" y="672.5" width="10.0" height="16.0" fill="#70AD47"/><rect x="539.2" y="670.9" width="6.0" height="19.2" fill="#70AD47" fill-opacity="0.35"/><text class="lg" x="585.6" y="690.0" textLength="303.5" lengthAdjust="spacingAndGlyphs">LC+0.3 Wt%BiFeO3,PVA</text><path d="M501.7,723.6 H581.5" stroke="#9E480E" stroke-opacity="0.45" stroke-width="7.5"/><path d="M501.7,723.0 H580" stroke="#9E480E" stroke-width="3"/><rect x="535.4" y="718.7" width="13.6" height="11.2" fill="#9E480E"/><rect x="537.2" y="716.3" width="10.0" height="16.0" fill="#9E480E"/><rect x="539.2" y="714.7" width="6.0" height="19.2" fill="#9E480E" fill-opacity="0.35"/><text class="lg" x="585.6" y="731.7" textLength="303.5" lengthAdjust="spacingAndGlyphs">LC+0.5 Wt%BiFeO3,PVA</text><path d="M1016.5,594.6 H1095.5" stroke="#5B9BD5" stroke-opacity="0.45" stroke-width="7.5"/><path d="M1016.5,594.0 H1094" stroke="#5B9BD5" stroke-width="3"/><rect x="1049.9" y="589.4" width="13.6" height="11.2" fill="#5B9BD5"/><rect x="1051.7" y="587.0" width="10.0" height="16.0" fill="#5B9BD5"/><rect x="1053.7" y="585.4" width="6.0" height="19.2" fill="#5B9BD5" fill-opacity="0.35"/><text class="lg2" x="1099.0" y="603.5" textLength="138.5" lengthAdjust="spacingAndGlyphs">Lecithin,LC</text><path d="M1016.5,640.1 H1095.5" stroke="#A5A5A5" stroke-opacity="0.45" stroke-width="7.5"/><path d="M1016.5,639.5 H1094" stroke="#A5A5A5" stroke-width="3"/><rect x="1049.9" y="635.1" width="13.6" height="11.2" fill="#A5A5A5"/><rect x="1051.7" y="632.7" width="10.0" height="16.0" fill="#A5A5A5"/><rect x="1053.7" y="631.1" width="6.0" height="19.2" fill="#A5A5A5" fill-opacity="0.35"/><text class="lg2" x="1099.0" y="649.0" textLength="354.5" lengthAdjust="spacingAndGlyphs">LC+0.1 Wt%BiFeO3,Lecithin</text><path d="M1016.5,683.1 H1095.5" stroke="#4472C4" stroke-opacity="0.45" stroke-width="7.5"/><path d="M1016.5,682.5 H1094" stroke="#4472C4" stroke-width="3"/><rect x="1049.9" y="677.9" width="13.6" height="11.2" fill="#4472C4"/><rect x="1051.7" y="675.5" width="10.0" height="16.0" fill="#4472C4"/><rect x="1053.7" y="673.9" width="6.0" height="19.2" fill="#4472C4" fill-opacity="0.35"/><text class="lg2" x="1099.0" y="694.0" textLength="306.3" lengthAdjust="spacingAndGlyphs">LC+0.2 Wt%BiFeO3,PVA</text><path d="M1016.5,728.6 H1095.5" stroke="#255E91" stroke-opacity="0.45" stroke-width="7.5"/><path d="M1016.5,728.0 H1094" stroke="#255E91" stroke-width="3"/><rect x="1049.9" y="723.9" width="13.6" height="11.2" fill="#255E91"/><rect x="1051.7" y="721.5" width="10.0" height="16.0" fill="#255E91"/><rect x="1053.7" y="719.9" width="6.0" height="19.2" fill="#255E91" fill-opacity="0.35"/><text class="lg2" x="1099.0" y="739.5" textLength="354.5" lengthAdjust="spacingAndGlyphs">LC+0.4 Wt%BiFeO3,Lecithin</text><path d="M1553.5,594.6 H1634.1" stroke="#ED7D31" stroke-opacity="0.45" stroke-width="7.5"/><path d="M1553.5,594.0 H1632.6" stroke="#ED7D31" stroke-width="3"/><rect x="1587.2" y="589.4" width="13.6" height="11.2" fill="#ED7D31"/><rect x="1589.0" y="587.0" width="10.0" height="16.0" fill="#ED7D31"/><rect x="1591.0" y="585.4" width="6.0" height="19.2" fill="#ED7D31" fill-opacity="0.35"/><text class="lg2" x="1638.8" y="603.0" textLength="366.9" lengthAdjust="spacingAndGlyphs">LC+0.05 Wt%BiFeO3,Lecithin</text><path d="M1553.5,640.1 H1634.1" stroke="#FFC000" stroke-opacity="0.45" stroke-width="7.5"/><path d="M1553.5,639.5 H1632.6" stroke="#FFC000" stroke-width="3"/><rect x="1587.2" y="635.1" width="13.6" height="11.2" fill="#FFC000"/><rect x="1589.0" y="632.7" width="10.0" height="16.0" fill="#FFC000"/><rect x="1591.0" y="631.1" width="6.0" height="19.2" fill="#FFC000" fill-opacity="0.35"/><text class="lg2" x="1638.8" y="648.7" textLength="366.9" lengthAdjust="spacingAndGlyphs">LC+0.15 Wt%BiFeO3,Lecithin</text><path d="M1553.5,683.1 H1634.1" stroke="#70AD47" stroke-opacity="0.45" stroke-width="7.5"/><path d="M1553.5,682.5 H1632.6" stroke="#70AD47" stroke-width="3"/><rect x="1587.2" y="677.9" width="13.6" height="11.2" fill="#70AD47"/><rect x="1589.0" y="675.5" width="10.0" height="16.0" fill="#70AD47"/><rect x="1591.0" y="673.9" width="6.0" height="19.2" fill="#70AD47" fill-opacity="0.35"/><text class="lg2" x="1638.8" y="693.5" textLength="353.7" lengthAdjust="spacingAndGlyphs">LC+0.3 Wt%BiFeO3,Lecithin</text><path d="M1553.5,728.6 H1634.1" stroke="#9E480E" stroke-opacity="0.45" stroke-width="7.5"/><path d="M1553.5,728.0 H1632.6" stroke="#9E480E" stroke-width="3"/><rect x="1587.2" y="723.9" width="13.6" height="11.2" fill="#9E480E"/><rect x="1589.0" y="721.5" width="10.0" height="16.0" fill="#9E480E"/><rect x="1591.0" y="719.9" width="6.0" height="19.2" fill="#9E480E" fill-opacity="0.35"/><text class="lg2" x="1638.8" y="739.5" textLength="353.7" lengthAdjust="spacingAndGlyphs">LC+0.5 Wt%BiFeO3,Lecithin</text><text x="451.62" y="781.56" font-family='"Liberation Serif","Times New Roman",serif' font-size="43" fill="#000" textLength="32.56" lengthAdjust="spacingAndGlyphs">a)</text><text x="1476.26" y="787.56" font-family='"Liberation Serif","Times New Roman",serif' font-size="43" fill="#000" textLength="35.30" lengthAdjust="spacingAndGlyphs">b)</text></svg></body></html>
